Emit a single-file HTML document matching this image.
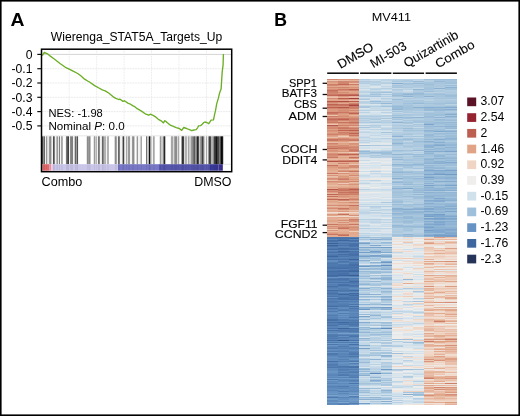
<!DOCTYPE html>
<html><head><meta charset="utf-8"><style>
html,body{margin:0;padding:0;background:#fff;}
#w{position:relative;width:520px;height:416px;overflow:hidden;background:#fff;font-family:"Liberation Sans", sans-serif;}
svg{position:absolute;left:0;top:0;will-change:transform;}
text{stroke:#000;stroke-width:0.12px;fill:#000;}
.ns text,text.ns{stroke:none;fill:#000;}
</style></head><body><div id="w">
<div style="position:absolute;left:0;top:0;width:520px;height:416px;filter:blur(0.45px)"><div style="position:absolute;left:327.20px;top:79px;width:10.75px;height:326px;background:linear-gradient(to bottom,#d1866f 0px 1px,#ebc4b0 1px 2px,#d8947b 2px 3px,#dd9e82 3px 4px,#e2a88d 4px 5px,#cd7e69 5px 6px,#d28871 6px 7px,#e2a98e 7px 8px,#d38a73 8px 9px,#de9f83 9px 10px,#d58e76 10px 11px,#c6715f 11px 12px,#cb7b67 12px 13px,#ce816b 13px 14px,#d28971 14px 15px,#cb7a66 15px 16px,#c16757 16px 17px,#e6b49c 17px 18px,#eac2ad 18px 19px,#d28870 19px 20px,#e2a88d 20px 21px,#e0a386 21px 22px,#b8584d 22px 23px,#d1866f 23px 24px,#da987e 24px 25px,#be6253 25px 26px,#ca7965 26px 27px,#d38a72 27px 28px,#bc5f50 28px 29px,#d38a72 29px 30px,#db9a7f 30px 31px,#dc9b80 31px 32px,#da987e 32px 33px,#c46d5c 33px 34px,#c97663 34px 35px,#d58f76 35px 36px,#eac4af 36px 37px,#cc7c68 37px 38px,#db997e 38px 39px,#cb7b67 39px 40px,#c36b5a 40px 41px,#cc7d68 41px 42px,#d18770 42px 43px,#ca7965 43px 44px,#e1a689 44px 45px,#ecc8b4 45px 46px,#b7564c 46px 47px,#d58e76 47px 48px,#d38a72 48px 49px,#d18770 49px 50px,#dfa185 50px 51px,#d48c74 51px 52px,#da977d 52px 53px,#e0a386 53px 54px,#d8947a 54px 55px,#ce806a 55px 56px,#db9a7f 56px 57px,#e1a589 57px 58px,#e9bfa9 58px 59px,#db997e 59px 60px,#c77461 60px 62px,#dfa184 62px 63px,#e8bda7 63px 64px,#cf826c 64px 65px,#d8957b 65px 66px,#dc9c80 66px 67px,#ce816b 67px 68px,#d38a73 68px 69px,#c36b5a 69px 70px,#dc9c81 70px 71px,#d69077 71px 72px,#d9967c 72px 73px,#e5b298 73px 74px,#d8947b 74px 75px,#d0846d 75px 76px,#d58e75 76px 77px,#d79178 77px 78px,#ca7865 78px 79px,#e4ae94 79px 80px,#e7b9a1 80px 81px,#d9967c 81px 82px,#b35149 82px 83px,#e5b198 83px 84px,#e3ae93 84px 85px,#e4b197 85px 86px,#c77361 86px 87px,#da987d 87px 88px,#dc9c80 88px 89px,#e1a689 89px 90px,#e1a78b 90px 91px,#e3ac91 91px 92px,#e4b096 92px 93px,#e3ad93 93px 94px,#ca7965 94px 95px,#e7baa3 95px 96px,#d8947a 96px 97px,#e9c1ab 97px 98px,#e6b79f 98px 99px,#d58e76 99px 100px,#d9967c 100px 101px,#e9bfaa 101px 102px,#d38b73 102px 103px,#dfa184 103px 104px,#e3ae93 104px 105px,#e3ad92 105px 106px,#e8bda7 106px 107px,#e4af96 107px 108px,#e0a487 108px 109px,#e4af95 109px 110px,#b6554b 110px 111px,#d69077 111px 112px,#d0846d 112px 113px,#dd9e82 113px 114px,#e6b59d 114px 115px,#c06555 115px 116px,#e3ad92 116px 117px,#c5705e 117px 118px,#e4b096 118px 119px,#dd9e82 119px 120px,#c16857 120px 121px,#e3ac91 121px 122px,#e0a285 122px 123px,#e2aa8f 123px 124px,#e5b49b 124px 125px,#e4b097 125px 126px,#d58d75 126px 127px,#e8bda7 127px 128px,#dfa184 128px 129px,#d48b73 129px 130px,#e5b198 130px 131px,#e3ac92 131px 132px,#e2aa8e 132px 133px,#f0dcd0 133px 134px,#edcab8 134px 135px,#db9a7f 135px 136px,#e1a88c 136px 137px,#f0dacc 137px 138px,#e3ac92 138px 139px,#e4ae94 139px 141px,#e0a487 141px 142px,#e0a588 142px 143px,#e4b097 143px 144px,#e5b39b 144px 145px,#c87562 145px 146px,#e4b097 146px 147px,#d48d75 147px 148px,#e1a689 148px 149px,#d9957b 149px 150px,#ebc4af 150px 151px,#d8947a 151px 152px,#e7baa3 152px 153px,#e0a386 153px 154px,#da977d 154px 155px,#c77461 155px 156px,#e3ae94 156px 157px,#e2aa8e 157px 158px,#4c76ac 158px 159px,#4973aa 159px 160px,#5985b8 160px 161px,#446ea5 161px 162px,#4871a8 162px 163px,#5681b5 163px 164px,#3b6198 164px 165px,#5580b4 165px 166px,#3c639a 166px 167px,#4a74aa 167px 168px,#5681b5 168px 169px,#4e78ae 169px 170px,#436da4 170px 171px,#5b87ba 171px 172px,#527db2 172px 173px,#4670a7 173px 174px,#5883b6 174px 175px,#4f7aaf 175px 176px,#4a74ab 176px 177px,#3d669e 177px 178px,#517cb1 178px 179px,#5580b4 179px 180px,#4771a8 180px 181px,#618dbe 181px 182px,#5f8bbd 182px 183px,#547fb3 183px 184px,#4c76ac 184px 185px,#4f7aaf 185px 186px,#4e79ae 186px 187px,#4d77ad 187px 188px,#4670a7 188px 190px,#537eb2 190px 191px,#4d78ad 191px 192px,#436da5 192px 193px,#4872a9 193px 195px,#4973a9 195px 196px,#416aa2 196px 197px,#4771a8 197px 198px,#6793c3 198px 199px,#537eb2 199px 200px,#4771a8 200px 201px,#507bb0 201px 202px,#5580b4 202px 203px,#4872a8 203px 204px,#5b87ba 204px 205px,#527db2 205px 206px,#5480b4 206px 207px,#466fa7 207px 208px,#517cb1 208px 209px,#5681b5 209px 210px,#5a85b8 210px 211px,#426ba3 211px 212px,#527db2 212px 213px,#4f7aaf 213px 214px,#4771a8 214px 215px,#4e79ae 215px 216px,#5580b4 216px 217px,#4a74aa 217px 218px,#6390c0 218px 219px,#4973aa 219px 220px,#537eb3 220px 221px,#5580b4 221px 222px,#4e78ae 222px 223px,#4f79af 223px 224px,#5681b5 224px 225px,#5580b4 225px 226px,#507bb0 226px 227px,#446ea5 227px 228px,#5d89bb 228px 229px,#4c76ac 229px 230px,#5883b7 230px 231px,#5e8abc 231px 232px,#4f7aaf 232px 233px,#618ebf 233px 234px,#6390c0 234px 235px,#5b87b9 235px 236px,#507bb0 236px 237px,#5b87ba 237px 238px,#5580b4 238px 239px,#5783b6 239px 240px,#4670a7 240px 241px,#456fa6 241px 242px,#5783b6 242px 243px,#446ea6 243px 244px,#537eb2 244px 245px,#527db2 245px 246px,#4872a9 246px 247px,#5783b6 247px 248px,#5984b7 248px 249px,#4a74ab 249px 250px,#618dbe 250px 251px,#4771a8 251px 252px,#5b87b9 252px 253px,#5c88ba 253px 254px,#6794c3 254px 255px,#537eb2 255px 256px,#4f79af 256px 257px,#4e79ae 257px 258px,#5580b4 258px 259px,#4f79af 259px 260px,#5984b7 260px 261px,#456fa6 261px 262px,#608dbe 262px 263px,#4d78ad 263px 264px,#6f9ac7 264px 265px,#4c76ac 265px 266px,#6a96c4 266px 267px,#5c88bb 267px 268px,#5782b5 268px 269px,#4e78ae 269px 270px,#6390c0 270px 271px,#5d89bb 271px 272px,#527db2 272px 273px,#6995c4 273px 274px,#4c76ac 274px 275px,#4f7aaf 275px 276px,#5682b5 276px 277px,#5e8abc 277px 278px,#6692c3 278px 279px,#5e8abc 279px 281px,#628fc0 281px 282px,#456fa6 282px 283px,#5d89bb 283px 284px,#5884b7 284px 285px,#517bb0 285px 286px,#517cb1 286px 287px,#5581b5 287px 288px,#4c77ac 288px 289px,#608cbe 289px 290px,#5d89bb 290px 291px,#618ebf 291px 292px,#6895c4 292px 293px,#6894c4 293px 294px,#608dbe 294px 295px,#5b86b9 295px 296px,#5985b8 296px 297px,#618ebf 297px 298px,#5b87ba 298px 299px,#719cc8 299px 300px,#4f7aaf 300px 301px,#6c98c5 301px 302px,#5f8cbd 302px 303px,#618ebf 303px 304px,#5883b6 304px 305px,#6794c3 305px 306px,#608cbe 306px 307px,#5682b5 307px 308px,#5a86b9 308px 309px,#5f8bbd 309px 310px,#638fc0 310px 311px,#5984b7 311px 312px,#6591c2 312px 313px,#6592c2 313px 314px,#6c98c5 314px 315px,#5f8bbd 315px 316px,#7da5cc 316px 317px,#608cbe 317px 318px,#4e78ae 318px 319px,#6d99c6 319px 320px,#719cc8 320px 321px,#5e8abc 321px 322px,#608dbe 322px 323px,#6f9ac7 323px 324px,#5d89bb 324px 325px,#618dbf 325px 326px)"></div><div style="position:absolute;left:337.90px;top:79px;width:11.05px;height:326px;background:linear-gradient(to bottom,#d8957b 0px 1px,#e7b8a1 1px 2px,#d1866f 2px 3px,#d0846d 3px 4px,#d18670 4px 5px,#c16757 5px 6px,#dd9c81 6px 7px,#e2a98e 7px 8px,#d0846e 8px 9px,#dc9c81 9px 10px,#ca7865 10px 11px,#d48c74 11px 12px,#e1a589 12px 13px,#d48c74 13px 14px,#dc9a7f 14px 15px,#c6715f 15px 16px,#bb5d50 16px 17px,#dd9c81 17px 18px,#e5b198 18px 19px,#bb5c4f 19px 20px,#d79279 20px 21px,#e3ad93 21px 22px,#af4a45 22px 23px,#d8947b 23px 24px,#e2a88d 24px 25px,#c5705e 25px 26px,#c77360 26px 27px,#d69077 27px 28px,#b6554b 28px 29px,#cf826c 29px 30px,#d9957b 30px 31px,#d48c74 31px 32px,#d69077 32px 33px,#c87663 33px 34px,#d8937a 34px 35px,#dea083 35px 36px,#db997e 36px 37px,#d48c74 37px 38px,#db997e 38px 39px,#c97764 39px 40px,#bd5f51 40px 41px,#d1866f 41px 42px,#e0a588 42px 43px,#c77361 43px 44px,#d9957b 44px 45px,#dfa084 45px 46px,#cd7f6a 46px 47px,#dfa285 47px 48px,#cd7e69 48px 49px,#c87562 49px 50px,#d69178 50px 51px,#c06556 51px 52px,#dc9b80 52px 53px,#cd7f6a 53px 54px,#d18670 54px 56px,#e4af95 56px 57px,#eccab7 57px 58px,#e3ae94 58px 59px,#d48c74 59px 60px,#cb7a66 60px 61px,#d1866f 61px 62px,#dd9e82 62px 63px,#e7b8a0 63px 64px,#e0a285 64px 65px,#e1a589 65px 66px,#d68f77 66px 67px,#d58e75 67px 68px,#cd7e69 68px 70px,#da977d 70px 71px,#e1a589 71px 72px,#d9957b 72px 73px,#e9c0aa 73px 74px,#da987d 74px 75px,#be6152 75px 76px,#d79178 76px 77px,#e5b299 77px 78px,#e0a386 78px 79px,#e4b097 79px 80px,#e5b49b 80px 81px,#d18670 81px 82px,#bc5d50 82px 83px,#e3ac92 83px 84px,#cf826c 84px 85px,#e6b69d 85px 86px,#dfa184 86px 87px,#dfa084 87px 88px,#d48d75 88px 89px,#db9a7f 89px 90px,#e6b79f 90px 91px,#db9a7f 91px 92px,#d18670 92px 93px,#eccab7 93px 94px,#d69077 94px 95px,#e5b39a 95px 96px,#e2a98e 96px 97px,#da987d 97px 98px,#dd9e82 98px 99px,#d18770 99px 100px,#cb7b67 100px 101px,#e1a588 101px 102px,#d8947b 102px 103px,#da977d 103px 104px,#eccab7 104px 105px,#db9a7f 105px 106px,#e7b9a2 106px 107px,#e4af95 107px 108px,#e1a78b 108px 109px,#d1866f 109px 110px,#c97763 110px 111px,#c87461 111px 112px,#d58f76 112px 113px,#c67260 113px 114px,#d38b73 114px 115px,#cb7a66 115px 116px,#dd9d81 116px 117px,#d79278 117px 118px,#dfa185 118px 119px,#e5b39a 119px 120px,#bd6152 120px 121px,#d28871 121px 122px,#e9bea9 122px 123px,#dc9a7f 123px 124px,#e4af95 124px 125px,#e3ad92 125px 126px,#d38972 126px 127px,#e3ae93 127px 128px,#e2a98d 128px 129px,#c87562 129px 130px,#d69077 130px 131px,#e5b39a 131px 132px,#db997e 132px 133px,#f0ded3 133px 134px,#e3ad93 134px 135px,#c46e5c 135px 136px,#e7baa3 136px 137px,#f0dccf 137px 138px,#e0a386 138px 139px,#e6b69d 139px 140px,#e4af95 140px 141px,#d58e75 141px 142px,#e7b8a0 142px 143px,#d79178 143px 144px,#e5b39a 144px 145px,#d58f76 145px 146px,#dd9d81 146px 147px,#db997e 147px 148px,#cf836d 148px 149px,#c77360 149px 150px,#e3ac92 150px 151px,#e5b299 151px 152px,#e4ae94 152px 153px,#e1a88c 153px 155px,#cf826c 155px 156px,#c56f5d 156px 157px,#e3ad93 157px 158px,#4c76ac 158px 159px,#4771a8 159px 160px,#4d78ae 160px 161px,#3d659d 161px 162px,#5681b5 162px 164px,#4a74aa 164px 165px,#537eb2 165px 166px,#4771a8 166px 167px,#5682b5 167px 168px,#5580b4 168px 169px,#436ca4 169px 170px,#4771a8 170px 171px,#547fb3 171px 172px,#3e67a0 172px 173px,#4771a8 173px 174px,#5782b6 174px 175px,#446da5 175px 176px,#507bb0 176px 177px,#4a75ab 177px 178px,#5884b7 178px 179px,#517cb1 179px 180px,#4872a9 180px 181px,#5985b8 181px 182px,#4a74aa 182px 183px,#507bb0 183px 184px,#5f8cbd 184px 185px,#4e79ae 185px 186px,#4974aa 186px 187px,#4b76ac 187px 188px,#4771a8 188px 189px,#436da5 189px 190px,#5782b6 190px 191px,#4670a7 191px 192px,#426ba3 192px 193px,#4b76ac 193px 194px,#456fa6 194px 195px,#4771a8 195px 196px,#3d659d 196px 197px,#5985b8 197px 198px,#6592c2 198px 199px,#4a74aa 199px 200px,#4872a9 200px 201px,#4e79ae 201px 202px,#5682b5 202px 203px,#4771a8 203px 204px,#5682b5 204px 205px,#4670a7 205px 206px,#466fa7 206px 207px,#527db2 207px 208px,#5984b7 208px 209px,#537eb2 209px 211px,#4b76ac 211px 212px,#517cb0 212px 213px,#628fc0 213px 214px,#517bb0 214px 215px,#3e679f 215px 216px,#537eb2 216px 217px,#527db2 217px 218px,#4a74aa 218px 219px,#456fa7 219px 220px,#4771a8 220px 221px,#5c88ba 221px 222px,#4c77ad 222px 223px,#5a86b9 223px 224px,#5480b4 224px 225px,#527db1 225px 226px,#4e78ae 226px 227px,#4d77ad 227px 228px,#5f8bbc 228px 229px,#608cbe 229px 230px,#547fb3 230px 231px,#507aaf 231px 232px,#6390c0 232px 233px,#6895c4 233px 234px,#517cb1 234px 235px,#6794c3 235px 236px,#5a86b8 236px 237px,#6592c2 237px 238px,#5a86b9 238px 239px,#628fc0 239px 240px,#507bb0 240px 242px,#5682b5 242px 243px,#3f68a1 243px 244px,#4f7aaf 244px 245px,#4771a8 245px 246px,#608cbe 246px 247px,#5984b7 247px 248px,#5d89bb 248px 249px,#3d659d 249px 250px,#5681b5 250px 251px,#4d77ad 251px 252px,#527db1 252px 253px,#5f8bbd 253px 254px,#76a0c9 254px 255px,#5985b8 255px 256px,#4f7aaf 256px 257px,#6390c1 257px 258px,#527cb1 258px 259px,#5884b7 259px 260px,#5b87b9 260px 261px,#365789 261px 262px,#6693c3 262px 263px,#507bb0 263px 264px,#6a96c5 264px 265px,#5883b7 265px 266px,#5e8abc 266px 267px,#4f7aaf 267px 268px,#5b86b9 268px 269px,#5480b4 269px 270px,#618ebf 270px 271px,#5985b8 271px 272px,#547fb3 272px 273px,#628ebf 273px 274px,#5985b8 274px 275px,#5884b7 275px 276px,#5b87ba 276px 277px,#547fb3 277px 278px,#5c88ba 278px 279px,#618dbf 279px 280px,#5681b5 280px 281px,#5e8bbc 281px 282px,#5480b4 282px 283px,#6592c2 283px 285px,#608cbd 285px 286px,#5e8abc 286px 287px,#4c76ac 287px 288px,#507aaf 288px 289px,#5985b8 289px 290px,#527cb1 290px 291px,#5480b4 291px 292px,#5d89bb 292px 293px,#527db2 293px 294px,#5c88ba 294px 295px,#517cb1 295px 296px,#4e78ae 296px 297px,#6995c4 297px 298px,#5782b5 298px 299px,#6f9ac7 299px 300px,#5b87b9 300px 301px,#5985b8 301px 302px,#5e8abc 302px 303px,#6996c4 303px 304px,#5d89bb 304px 305px,#6591c2 305px 306px,#618ebf 306px 307px,#507bb0 307px 308px,#5d89bb 308px 309px,#5884b7 309px 310px,#6894c4 310px 311px,#628fc0 311px 312px,#537eb2 312px 313px,#6995c4 313px 314px,#5a86b8 314px 315px,#6693c3 315px 316px,#6e99c6 316px 317px,#709bc7 317px 318px,#5984b7 318px 319px,#628fc0 319px 320px,#6490c1 320px 321px,#6e99c6 321px 322px,#628ebf 322px 323px,#7fa7cd 323px 324px,#5884b7 324px 325px,#5681b5 325px 326px)"></div><div style="position:absolute;left:348.90px;top:79px;width:10.55px;height:326px;background:linear-gradient(to bottom,#d9967c 0px 1px,#e5b299 1px 2px,#d58d75 2px 3px,#d58f76 3px 4px,#e9bea8 4px 5px,#cb7a66 5px 6px,#e2a88d 6px 7px,#e3ac91 7px 8px,#d69077 8px 9px,#de9f83 9px 10px,#bf6455 10px 11px,#d0856f 11px 12px,#e1a588 12px 13px,#e0a386 13px 14px,#db9a7f 14px 15px,#c56f5d 15px 16px,#b6554b 16px 17px,#e5b39b 17px 18px,#e8bca6 18px 19px,#a53b3d 19px 20px,#dfa185 20px 21px,#e8bca5 21px 22px,#ba5b4e 22px 23px,#e1a588 23px 24px,#d0846e 24px 25px,#bf6455 25px 26px,#ac4643 26px 27px,#cc7d68 27px 28px,#cb7a66 28px 29px,#ce816b 29px 30px,#e0a386 30px 31px,#d28972 31px 32px,#e0a286 32px 33px,#cf836d 33px 34px,#be6153 34px 35px,#db997e 35px 36px,#e5b39a 36px 37px,#dd9d81 37px 38px,#d8947a 38px 39px,#d0836d 39px 40px,#cd7e69 40px 41px,#d48d75 41px 42px,#d68f77 42px 43px,#c46e5c 43px 44px,#d28871 44px 45px,#dd9c81 45px 46px,#d0846e 46px 47px,#e6b69e 47px 48px,#d79279 48px 49px,#cb7a66 49px 50px,#d58e75 50px 51px,#bb5d4f 51px 52px,#d79178 52px 53px,#d28972 53px 54px,#be6253 54px 55px,#d48c74 55px 56px,#c87562 56px 57px,#dea084 57px 58px,#e4b097 58px 59px,#dd9c81 59px 60px,#ce806a 60px 61px,#c97763 61px 62px,#e6b59d 62px 63px,#eac3af 63px 64px,#d79278 64px 65px,#d9967c 65px 66px,#e0a386 66px 67px,#d58f76 67px 68px,#d1856f 68px 69px,#d68f76 69px 70px,#cf826c 70px 71px,#ca7966 71px 72px,#d1856f 72px 73px,#efd1c0 73px 74px,#dc9c81 74px 75px,#bf6354 75px 76px,#de9e82 76px 77px,#e2aa8f 77px 78px,#c56f5d 78px 79px,#db9a7f 79px 80px,#ecc9b5 80px 81px,#cc7d68 81px 82px,#be6152 82px 83px,#e3ad93 83px 84px,#e2a98e 84px 85px,#ebc4b0 85px 86px,#d38b73 86px 87px,#d38a72 87px 88px,#d48c74 88px 89px,#e4af95 89px 90px,#e8bba4 90px 91px,#dc9c80 91px 92px,#c77461 92px 93px,#e6b59d 93px 94px,#e1a68a 94px 95px,#e2a88c 95px 96px,#d38a73 96px 97px,#e6b69e 97px 98px,#e0a386 98px 99px,#e1a78b 99px 100px,#da987d 100px 101px,#e2aa8f 101px 102px,#d18670 102px 103px,#e7baa3 103px 104px,#e3ab90 104px 105px,#d79379 105px 106px,#e3ae94 106px 107px,#e2aa8e 107px 108px,#e0a487 108px 109px,#ce806b 109px 110px,#bb5d4f 110px 111px,#cc7d68 111px 112px,#d0846e 112px 113px,#c56f5d 113px 114px,#d0846e 114px 115px,#cd7f6a 115px 116px,#dfa184 116px 117px,#dc9b80 117px 118px,#e1a689 118px 119px,#d8937a 119px 120px,#cc7d68 120px 121px,#dea084 121px 122px,#e6b69e 122px 123px,#d38a72 123px 124px,#e3ab90 124px 125px,#e5b299 125px 126px,#c6715f 126px 127px,#dd9e82 127px 128px,#dd9d82 128px 129px,#dc9c81 129px 130px,#dd9e82 130px 131px,#e8bda6 131px 132px,#e3ad92 132px 133px,#f0d7c7 133px 134px,#eac1ac 134px 135px,#e6b69e 135px 136px,#d79379 136px 137px,#f0d8ca 137px 138px,#e3ad93 138px 139px,#e5b198 139px 140px,#cd7f6a 140px 141px,#d58e76 141px 142px,#d68f76 142px 143px,#e4b197 143px 144px,#e2ab90 144px 145px,#c97764 145px 146px,#e5b198 146px 147px,#dc9a7f 147px 148px,#d48d75 148px 149px,#dc9b80 149px 150px,#d9967c 150px 151px,#e0a487 151px 152px,#edccba 152px 153px,#e2a98d 153px 154px,#e2a88d 154px 155px,#e3ab90 155px 156px,#e3ad93 156px 157px,#e4ae94 157px 158px,#5580b4 158px 159px,#436ca4 159px 160px,#5a86b9 160px 161px,#466fa7 161px 162px,#4a74ab 162px 163px,#5a86b9 163px 164px,#4a74aa 164px 165px,#4670a7 165px 167px,#4973a9 167px 168px,#5682b5 168px 169px,#4973aa 169px 170px,#4670a7 170px 171px,#5d89bb 171px 172px,#4670a7 172px 173px,#4d78ae 173px 174px,#4973aa 174px 175px,#456fa6 175px 176px,#4670a7 176px 177px,#517cb1 177px 178px,#547fb3 178px 179px,#517cb1 179px 180px,#3d649c 180px 181px,#517cb1 181px 182px,#5a86b9 182px 183px,#4e79ae 183px 184px,#4d78ad 184px 185px,#456fa7 185px 186px,#446ea5 186px 187px,#4b75ab 187px 188px,#456fa6 188px 189px,#4b75ab 189px 190px,#4c76ac 190px 191px,#416ba3 191px 192px,#3e67a0 192px 193px,#527db2 193px 194px,#537eb2 194px 195px,#4e79ae 195px 196px,#3a5f95 196px 197px,#537eb3 197px 198px,#6d98c6 198px 199px,#4f7aaf 199px 200px,#5681b5 200px 201px,#4f7aaf 201px 202px,#426ca4 202px 203px,#4973aa 203px 204px,#507bb0 204px 205px,#5580b4 205px 206px,#456fa6 206px 207px,#4c76ac 207px 208px,#5985b8 208px 209px,#608cbe 209px 210px,#5883b7 210px 211px,#436da5 211px 212px,#547fb3 212px 213px,#5f8bbd 213px 214px,#406aa2 214px 215px,#4d78ad 215px 216px,#426ca4 216px 217px,#517bb0 217px 218px,#4b76ac 218px 219px,#4c76ac 219px 220px,#4770a8 220px 221px,#5a86b9 221px 222px,#517cb1 222px 223px,#5b87b9 223px 224px,#5e8bbc 224px 225px,#4a74aa 225px 226px,#6592c2 226px 227px,#456fa6 227px 228px,#5b87b9 228px 229px,#4b75ac 229px 230px,#5682b5 230px 231px,#5783b6 231px 232px,#5a85b8 232px 233px,#608cbe 233px 234px,#5883b7 234px 235px,#5a86b9 235px 236px,#5985b8 236px 237px,#5884b7 237px 238px,#4a74aa 238px 239px,#618dbe 239px 240px,#5a85b8 240px 241px,#4e79ae 241px 242px,#537eb2 242px 243px,#4973a9 243px 244px,#4e79ae 244px 245px,#4a75ab 245px 246px,#4e78ae 246px 247px,#5782b5 247px 248px,#709bc7 248px 249px,#4872a9 249px 250px,#507bb0 250px 252px,#4d78ad 252px 253px,#5985b8 253px 254px,#77a1ca 254px 255px,#5c88ba 255px 256px,#4e79ae 256px 257px,#4a75ab 257px 258px,#5985b8 258px 259px,#5f8cbd 259px 260px,#5c88ba 260px 261px,#4771a8 261px 262px,#6c98c5 262px 263px,#4d78ad 263px 264px,#6a96c5 264px 265px,#456fa6 265px 266px,#5e8abc 266px 267px,#6894c4 267px 268px,#5782b6 268px 269px,#537eb2 269px 270px,#5d89bb 270px 271px,#6591c2 271px 272px,#5984b7 272px 273px,#527db2 273px 274px,#507bb0 274px 275px,#4b75ab 275px 276px,#5b87b9 276px 277px,#4b76ac 277px 278px,#5c88ba 278px 279px,#6491c1 279px 280px,#6b97c5 280px 281px,#5a86b9 281px 282px,#4d77ad 282px 283px,#79a2cb 283px 284px,#537eb2 284px 285px,#6491c2 285px 286px,#6c98c5 286px 287px,#4a75ab 287px 288px,#4872a9 288px 289px,#5e8abc 289px 290px,#537eb2 290px 291px,#608cbd 291px 292px,#547fb3 292px 293px,#4f7aaf 293px 294px,#608dbe 294px 295px,#5a86b8 295px 296px,#547fb3 296px 297px,#5782b6 297px 298px,#507bb0 298px 299px,#709bc7 299px 300px,#5f8bbd 300px 301px,#527db1 301px 302px,#5985b8 302px 303px,#6a96c5 303px 304px,#4a74aa 304px 305px,#6a96c4 305px 306px,#5e8abc 306px 307px,#6693c3 307px 308px,#5c88ba 308px 309px,#628ebf 309px 310px,#618ebf 310px 311px,#5e8abc 311px 312px,#5a86b9 312px 313px,#6995c4 313px 314px,#6e99c6 314px 315px,#618ebf 315px 316px,#84aacf 316px 317px,#527db2 317px 318px,#5b87ba 318px 319px,#6d98c6 319px 320px,#6e99c6 320px 321px,#719cc8 321px 322px,#6895c4 322px 324px,#537eb2 324px 325px,#6e99c6 325px 326px)"></div><div style="position:absolute;left:359.40px;top:79px;width:10.95px;height:326px;background:linear-gradient(to bottom,#b2cde1 0px 1px,#c4d8e7 1px 2px,#b0cbe0 2px 3px,#b8d0e3 3px 4px,#b1cce0 4px 5px,#cddeeb 5px 6px,#ccdeea 6px 7px,#c6dae8 7px 8px,#d0e1ec 8px 9px,#c3d7e7 9px 10px,#d8e4ec 10px 11px,#ccdeea 11px 12px,#bdd4e5 12px 13px,#b8d1e3 13px 14px,#cfe0eb 14px 15px,#c2d7e7 15px 16px,#afcbe0 16px 17px,#acc9df 17px 18px,#d2e1ec 18px 19px,#bdd4e5 19px 20px,#acc8df 20px 21px,#dee6ec 21px 22px,#b8d1e3 22px 23px,#b9d1e3 23px 24px,#bdd4e5 24px 25px,#dae5ec 25px 26px,#c6dae8 26px 27px,#acc8df 27px 28px,#a9c6de 28px 29px,#dae5ec 29px 30px,#cddfeb 30px 31px,#b6cfe2 31px 32px,#d6e3ec 32px 33px,#bad2e4 33px 34px,#d4e2ec 34px 35px,#dae5ec 35px 36px,#bcd3e4 36px 37px,#b2cde1 37px 38px,#c2d7e6 38px 39px,#aecae0 39px 40px,#c0d6e6 40px 41px,#b5cfe2 41px 42px,#bfd5e5 42px 43px,#aecadf 43px 44px,#c9dce9 44px 45px,#dee7ec 45px 46px,#b0cbe0 46px 47px,#d2e1ec 47px 48px,#a7c5dd 48px 49px,#cfe0eb 49px 50px,#c5d9e8 50px 51px,#dde6ec 51px 52px,#c9dbe9 52px 53px,#bed4e5 53px 54px,#d3e2ec 54px 56px,#d6e3ec 56px 57px,#cbddea 57px 58px,#bfd5e6 58px 59px,#cadce9 59px 60px,#cfe0eb 60px 61px,#bfd5e5 61px 62px,#cddeea 62px 63px,#bed4e5 63px 64px,#d7e3ec 64px 65px,#efece9 65px 66px,#a0c1da 66px 67px,#d8e4ec 67px 68px,#d1e1ec 68px 69px,#cedfeb 69px 70px,#e4e9ec 70px 71px,#b4cee1 71px 72px,#97bad7 72px 73px,#aac7de 73px 74px,#9fc0da 74px 75px,#bad2e4 75px 76px,#c3d8e7 76px 77px,#b5cee2 77px 78px,#cfe0eb 78px 79px,#dde6ec 79px 81px,#c7dae8 81px 82px,#e8ebec 82px 83px,#eaecec 83px 84px,#d1e1ec 84px 85px,#eaecec 85px 86px,#d0e1ec 86px 87px,#e5e9ec 87px 88px,#d7e3ec 88px 89px,#dbe5ec 89px 90px,#e3e9ec 90px 91px,#e9ecec 91px 92px,#ccddea 92px 93px,#ebecec 93px 94px,#e3e9ec 94px 95px,#d8e4ec 95px 96px,#c6dae8 96px 97px,#ccddea 97px 98px,#d7e4ec 98px 99px,#e0e7ec 99px 100px,#efe7e2 100px 101px,#c9dce9 101px 102px,#dae5ec 102px 103px,#d4e2ec 103px 104px,#bfd5e6 104px 105px,#dae5ec 105px 106px,#e7ebec 106px 107px,#ebecec 107px 108px,#dae5ec 108px 109px,#e2e8ec 109px 110px,#b9d1e3 110px 111px,#d4e2ec 111px 112px,#d8e4ec 112px 113px,#efeae6 113px 114px,#e2e9ec 114px 115px,#d7e4ec 115px 116px,#d9e4ec 116px 117px,#e0e8ec 117px 118px,#d9e4ec 118px 119px,#e5eaec 119px 120px,#d2e2ec 120px 121px,#cfe0eb 121px 122px,#e9ecec 122px 123px,#d0e0ec 123px 124px,#d7e4ec 124px 125px,#c1d7e6 125px 126px,#d7e4ec 126px 127px,#bfd5e5 127px 128px,#dde6ec 128px 129px,#d6e3ec 129px 130px,#cbddea 130px 131px,#c8dbe9 131px 132px,#c5d9e8 132px 133px,#bbd2e4 133px 134px,#c0d6e6 134px 135px,#cddeea 135px 136px,#d3e2ec 136px 138px,#d5e3ec 138px 140px,#b6cfe2 140px 141px,#ccdeea 141px 142px,#c7dae8 142px 143px,#cbddea 143px 144px,#e0e7ec 144px 145px,#d1e1ec 145px 146px,#c0d6e6 146px 147px,#c6dae8 147px 148px,#dfe7ec 148px 149px,#b3cde1 149px 150px,#d6e3ec 150px 151px,#d1e1ec 151px 152px,#d6e3ec 152px 153px,#d9e4ec 153px 154px,#bed4e5 154px 155px,#cddfeb 155px 156px,#bcd3e5 156px 157px,#c4d9e7 157px 158px,#94b7d5 158px 159px,#bbd3e4 159px 160px,#a3c3db 160px 161px,#c8dbe9 161px 162px,#d9e4ec 162px 163px,#93b7d5 163px 164px,#78a1ca 164px 165px,#b2cde1 165px 166px,#b0cbe0 166px 167px,#c4d8e7 167px 168px,#80a7cd 168px 169px,#aecadf 169px 170px,#93b7d5 170px 171px,#97bad7 171px 172px,#b1cce1 172px 173px,#749ec8 173px 174px,#b4cee2 174px 175px,#abc8de 175px 176px,#8db2d3 176px 177px,#759fc9 177px 178px,#9fc0da 178px 179px,#a2c2db 179px 180px,#bfd5e5 180px 181px,#8bb0d2 181px 182px,#aecadf 182px 183px,#bad2e4 183px 184px,#c1d6e6 184px 185px,#dfe7ec 185px 186px,#8fb4d4 186px 187px,#6c98c6 187px 188px,#c7dae8 188px 189px,#99bbd7 189px 190px,#93b7d5 190px 191px,#c3d8e7 191px 192px,#97bad7 192px 193px,#adc9df 193px 194px,#a7c5dd 194px 195px,#b9d1e3 195px 196px,#afcae0 196px 197px,#96b9d6 197px 198px,#b8d0e3 198px 199px,#9fc0da 199px 200px,#c4d9e7 200px 201px,#bcd3e4 201px 202px,#a6c5dd 202px 203px,#b7d0e3 203px 204px,#a5c4dc 204px 205px,#8eb3d3 205px 206px,#b8d0e3 206px 207px,#d5e3ec 207px 208px,#b2cde1 208px 209px,#85acd0 209px 210px,#b3cde1 210px 211px,#a7c5dd 211px 212px,#c3d8e7 212px 213px,#b4cee2 213px 214px,#b2cde1 214px 215px,#89afd1 215px 216px,#cadce9 216px 217px,#99bbd7 217px 218px,#aecadf 218px 219px,#d3e2ec 219px 220px,#90b4d4 220px 221px,#b7d0e3 221px 222px,#cbddea 222px 223px,#b4cee2 223px 224px,#c8dbe9 224px 225px,#8cb1d2 225px 226px,#c0d6e6 226px 227px,#c6dae8 227px 228px,#8bb0d2 228px 229px,#8fb3d3 229px 230px,#6a96c5 230px 231px,#dae5ec 231px 232px,#cfdfeb 232px 233px,#bbd3e4 233px 234px,#d6e3ec 234px 235px,#95b8d6 235px 236px,#dbe5ec 236px 237px,#7aa3cb 237px 238px,#b0cce0 238px 239px,#c7dae8 239px 240px,#99bcd8 240px 241px,#d2e2ec 241px 242px,#cfdfeb 242px 243px,#83aacf 243px 244px,#b1cce0 244px 245px,#b4cee1 245px 246px,#b0cbe0 246px 247px,#cfe0eb 247px 248px,#95b8d6 248px 249px,#a8c6dd 249px 250px,#96b9d6 250px 251px,#bbd2e4 251px 252px,#adc9df 252px 253px,#93b6d5 253px 254px,#b8d1e3 254px 255px,#b4cee2 255px 256px,#acc9df 256px 257px,#b6cfe2 257px 258px,#d6e3ec 258px 259px,#8fb3d3 259px 260px,#b1cce1 260px 261px,#a5c4dc 261px 262px,#d2e1ec 262px 263px,#c4d8e7 263px 264px,#c2d7e7 264px 265px,#c1d7e6 265px 266px,#88aed1 266px 267px,#bcd3e4 267px 268px,#c8dbe9 268px 269px,#78a1ca 269px 270px,#bbd2e4 270px 271px,#c1d6e6 271px 272px,#c5d9e8 272px 273px,#c2d7e6 273px 274px,#cbddea 274px 275px,#aecae0 275px 276px,#a4c4dc 276px 277px,#b9d1e3 277px 278px,#dce6ec 278px 279px,#b6cfe2 279px 280px,#a4c3dc 280px 281px,#b7d0e3 281px 282px,#b3cde1 282px 283px,#99bbd7 283px 284px,#bbd2e4 284px 285px,#c2d7e7 285px 286px,#bfd5e5 286px 287px,#bbd3e4 287px 288px,#d8e4ec 288px 289px,#9dbfd9 289px 290px,#8eb3d3 290px 291px,#b4cee2 291px 292px,#97b9d7 292px 293px,#c4d9e7 293px 294px,#9cbed9 294px 295px,#a3c3db 295px 296px,#88aed1 296px 297px,#cfe0eb 297px 298px,#bbd3e4 298px 299px,#cfe0eb 299px 300px,#bdd4e5 300px 301px,#c0d6e6 301px 302px,#b5cfe2 302px 303px,#b8d1e3 303px 304px,#a5c4dc 304px 305px,#aecadf 305px 306px,#c3d8e7 306px 307px,#dee6ec 307px 308px,#d2e2ec 308px 309px,#99bbd8 309px 310px,#c2d7e7 310px 311px,#a1c2db 311px 312px,#adcadf 312px 313px,#9abcd8 313px 314px,#c1d6e6 314px 315px,#cbddea 315px 316px,#abc8de 316px 317px,#d5e3ec 317px 318px,#9dbed9 318px 319px,#b2cde1 319px 320px,#8bb0d2 320px 321px,#d7e4ec 321px 322px,#c8dbe9 322px 323px,#d8e4ec 323px 324px,#729dc8 324px 325px,#bdd4e5 325px 326px)"></div><div style="position:absolute;left:370.30px;top:79px;width:10.85px;height:326px;background:linear-gradient(to bottom,#c2d7e6 0px 1px,#caddea 1px 2px,#b5cee2 2px 3px,#b6cfe2 3px 4px,#bfd5e6 4px 5px,#b5cee2 5px 6px,#c6dae8 6px 7px,#dae5ec 7px 8px,#dbe5ec 8px 9px,#bed5e5 9px 10px,#b7d0e3 10px 11px,#c9dce9 11px 12px,#bcd3e4 12px 13px,#a7c5dd 13px 14px,#b7d0e3 14px 15px,#a2c2db 15px 16px,#b7d0e3 16px 17px,#a3c3dc 17px 18px,#d2e1ec 18px 19px,#cbddea 19px 20px,#d3e2ec 20px 21px,#c1d6e6 21px 22px,#9cbed9 22px 23px,#b7d0e3 23px 24px,#a8c6dd 24px 25px,#dbe5ec 25px 26px,#c7dbe9 26px 27px,#b3cde1 27px 28px,#c7dae8 28px 29px,#c4d8e7 29px 30px,#c8dbe9 30px 31px,#bed5e5 31px 32px,#e0e8ec 32px 33px,#d3e2ec 33px 34px,#d5e3ec 34px 35px,#cddfeb 35px 36px,#bed5e5 36px 37px,#b0cbe0 37px 38px,#bed4e5 38px 39px,#b4cee2 39px 40px,#abc8de 40px 41px,#c5d9e8 41px 42px,#b8d1e3 42px 43px,#a6c4dc 43px 44px,#cfdfeb 44px 45px,#cbddea 45px 46px,#b3cde1 46px 47px,#bcd3e4 47px 48px,#bbd2e4 48px 49px,#d9e4ec 49px 50px,#bcd3e5 50px 51px,#d6e3ec 51px 52px,#d1e1ec 52px 53px,#c8dbe9 53px 54px,#c9dce9 54px 55px,#d2e1ec 55px 56px,#c3d8e7 56px 57px,#d5e3ec 57px 58px,#d9e4ec 58px 59px,#c1d6e6 59px 60px,#c8dbe9 60px 61px,#ccdeea 61px 62px,#c1d7e6 62px 63px,#dbe5ec 63px 64px,#dee7ec 64px 65px,#dfe7ec 65px 66px,#abc8de 66px 67px,#dde6ec 67px 68px,#d6e3ec 68px 69px,#d8e4ec 69px 70px,#e2e8ec 70px 71px,#c7dae8 71px 72px,#b4cee1 72px 73px,#99bbd8 73px 74px,#a9c6de 74px 75px,#c4d8e7 75px 76px,#aac7de 76px 77px,#bcd3e4 77px 78px,#b2cce1 78px 79px,#e0e7ec 79px 81px,#dae5ec 81px 82px,#e9ebec 82px 83px,#d9e4ec 83px 84px,#d3e2ec 84px 85px,#e2e8ec 85px 86px,#d5e3ec 86px 87px,#dae5ec 87px 88px,#d7e4ec 88px 89px,#dce6ec 89px 90px,#efe8e3 90px 91px,#dbe5ec 91px 92px,#b9d1e3 92px 93px,#e2e8ec 93px 94px,#c5d9e8 94px 95px,#d6e3ec 95px 96px,#dee7ec 96px 97px,#d1e1ec 97px 98px,#dde6ec 98px 99px,#eaecec 99px 100px,#efe8e2 100px 101px,#bcd3e4 101px 102px,#d3e2ec 102px 103px,#e8ebec 103px 104px,#d1e1ec 104px 105px,#dee7ec 105px 107px,#dbe5ec 107px 108px,#efeeeb 108px 109px,#e0e7ec 109px 110px,#cadce9 110px 111px,#d2e2ec 111px 112px,#d8e4ec 112px 113px,#efedeb 113px 114px,#dee7ec 114px 115px,#d6e3ec 115px 116px,#dfe7ec 116px 117px,#d9e4ec 117px 118px,#e6eaec 118px 119px,#dde6ec 119px 120px,#d2e1ec 120px 121px,#d3e2ec 121px 122px,#e2e8ec 122px 123px,#ccdeea 123px 124px,#d8e4ec 124px 125px,#c2d7e6 125px 126px,#dbe5ec 126px 127px,#b1cce1 127px 128px,#bdd4e5 128px 129px,#c6dae8 129px 130px,#cddeeb 130px 131px,#b7d0e2 131px 132px,#dae5ec 132px 133px,#bcd3e4 133px 134px,#c5d9e8 134px 135px,#d6e3ec 135px 136px,#cedfeb 136px 137px,#d0e0ec 137px 138px,#dce6ec 138px 139px,#d5e3ec 139px 140px,#b5cee2 140px 141px,#c8dbe9 141px 142px,#c2d7e7 142px 143px,#bed4e5 143px 144px,#cedfeb 144px 145px,#e2e8ec 145px 146px,#d5e3ec 146px 147px,#d1e1ec 147px 148px,#dbe5ec 148px 149px,#c0d6e6 149px 150px,#d2e2ec 150px 151px,#cedfeb 151px 152px,#cddfeb 152px 153px,#e3e9ec 153px 154px,#c5d9e8 154px 155px,#cbddea 155px 156px,#c1d7e6 156px 157px,#d7e4ec 157px 158px,#9ebfda 158px 159px,#b9d1e3 159px 160px,#84aacf 160px 161px,#c1d6e6 161px 162px,#c1d7e6 162px 163px,#bbd2e4 163px 164px,#a8c6dd 164px 165px,#c9dce9 165px 166px,#7ea6cd 166px 167px,#c5d9e8 167px 168px,#7ba4cc 168px 169px,#b3cde1 169px 170px,#aac7de 170px 171px,#a2c2db 171px 172px,#729dc8 172px 173px,#84abcf 173px 174px,#acc8df 174px 175px,#c0d6e6 175px 176px,#77a0ca 176px 177px,#7ea6cd 177px 178px,#b3cde1 178px 179px,#a4c3dc 179px 180px,#afcbe0 180px 181px,#acc8df 181px 182px,#d8e4ec 182px 183px,#8eb2d3 183px 184px,#aecadf 184px 185px,#d0e0ec 185px 186px,#81a8ce 186px 187px,#89afd1 187px 188px,#b9d1e3 188px 189px,#97bad7 189px 190px,#9dbed9 190px 191px,#c6dae8 191px 192px,#9abcd8 192px 193px,#9cbed9 193px 194px,#a5c4dc 194px 195px,#dce6ec 195px 196px,#a2c2db 196px 197px,#c5d9e8 197px 198px,#b9d1e3 198px 199px,#89afd1 199px 200px,#b1cce0 200px 201px,#cedfeb 201px 202px,#95b8d6 202px 203px,#c5d9e8 203px 204px,#b1cce1 204px 205px,#a6c5dc 205px 206px,#a7c5dd 206px 207px,#d6e3ec 207px 208px,#a2c2db 208px 209px,#b4cee2 209px 210px,#acc9df 210px 211px,#bcd3e5 211px 212px,#b8d1e3 212px 213px,#c6dae8 213px 214px,#d2e2ec 214px 215px,#8bb0d2 215px 216px,#d1e1ec 216px 217px,#9abcd8 217px 218px,#b5cfe2 218px 219px,#d3e2ec 219px 220px,#a8c6dd 220px 221px,#d2e1ec 221px 222px,#d5e3ec 222px 223px,#bbd2e4 223px 224px,#b1cce0 224px 225px,#98bad7 225px 226px,#c7dae8 226px 227px,#c8dbe9 227px 228px,#7ea6cd 228px 229px,#9cbdd9 229px 230px,#a2c2db 230px 231px,#dbe5ec 231px 232px,#c5d9e8 232px 233px,#b2cde1 233px 234px,#c3d8e7 234px 235px,#aecadf 235px 236px,#8fb4d4 236px 237px,#bcd3e5 237px 238px,#c0d6e6 238px 239px,#a7c5dd 239px 240px,#c6dae8 240px 241px,#d8e4ec 241px 242px,#dae5ec 242px 243px,#9ebfd9 243px 244px,#c4d8e7 244px 245px,#bed4e5 245px 246px,#a6c5dc 246px 247px,#e2e9ec 247px 248px,#c2d7e7 248px 249px,#7ca5cc 249px 250px,#b5cfe2 250px 251px,#b3cde1 251px 252px,#c4d9e7 252px 253px,#a2c2db 253px 254px,#b7d0e3 254px 255px,#9bbdd9 255px 256px,#adc9df 256px 257px,#d1e1ec 257px 258px,#b9d1e3 258px 259px,#b5cee2 259px 260px,#b8d1e3 260px 261px,#b4cee1 261px 262px,#d1e1ec 262px 263px,#a8c6dd 263px 264px,#d5e3ec 264px 265px,#dee7ec 265px 266px,#bcd3e4 266px 267px,#c2d7e7 267px 268px,#bfd5e5 268px 269px,#b4cee2 269px 270px,#c7dae8 270px 271px,#a2c2db 271px 272px,#d6e3ec 272px 273px,#aecadf 273px 274px,#aac7de 274px 275px,#b2cce1 275px 276px,#a2c2db 276px 277px,#d0e1ec 277px 278px,#d6e3ec 278px 279px,#cddfeb 279px 280px,#8fb3d3 280px 281px,#d2e1ec 281px 282px,#cddeea 282px 283px,#c9dce9 283px 284px,#d8e4ec 284px 285px,#b8d1e3 285px 286px,#dce6ec 286px 287px,#c9dce9 287px 288px,#c4d8e7 288px 289px,#bad2e4 289px 290px,#b6cfe2 290px 291px,#c3d8e7 291px 292px,#afcae0 292px 293px,#aac7de 293px 294px,#5a86b9 294px 295px,#c9dce9 295px 296px,#c1d7e6 296px 297px,#b7d0e3 297px 298px,#93b6d5 298px 299px,#c7dae8 299px 300px,#aac7de 300px 301px,#85acd0 301px 302px,#9bbdd9 302px 303px,#c6dae8 303px 304px,#a5c4dc 304px 305px,#b3cde1 305px 306px,#c8dbe9 306px 307px,#dee7ec 307px 308px,#d3e2ec 308px 309px,#9fc0da 309px 310px,#d8e4ec 310px 311px,#c2d7e6 311px 312px,#c0d6e6 312px 313px,#c6dae8 313px 314px,#b4cee2 314px 315px,#ccddea 315px 316px,#bed5e5 316px 317px,#d2e1ec 317px 318px,#92b6d5 318px 319px,#aecae0 319px 320px,#8fb3d3 320px 321px,#cfe0eb 321px 322px,#abc8de 322px 323px,#c5d9e8 323px 324px,#abc8de 324px 325px,#d4e2ec 325px 326px)"></div><div style="position:absolute;left:381.10px;top:79px;width:10.55px;height:326px;background:linear-gradient(to bottom,#bad2e4 0px 1px,#bdd4e5 1px 2px,#c9dce9 2px 3px,#b9d1e3 3px 4px,#b5cee2 4px 5px,#d4e2ec 5px 6px,#d1e1ec 6px 7px,#c3d8e7 7px 8px,#cedfeb 8px 9px,#b5cee2 9px 10px,#c7dae8 10px 11px,#d8e4ec 11px 12px,#b7d0e3 12px 13px,#a1c1db 13px 14px,#cedfeb 14px 15px,#abc8de 15px 16px,#caddea 16px 17px,#b4cee1 17px 18px,#cedfeb 18px 19px,#b3cde1 19px 20px,#c3d8e7 20px 21px,#c9dce9 21px 22px,#adc9df 22px 23px,#bad2e4 23px 24px,#95b8d6 24px 25px,#c8dbe9 25px 26px,#bcd3e4 26px 27px,#a2c2db 27px 28px,#c9dce9 28px 29px,#cddfeb 29px 30px,#c1d7e6 30px 31px,#bfd5e6 31px 32px,#d9e5ec 32px 33px,#bbd2e4 33px 34px,#d0e0ec 34px 35px,#e2e9ec 35px 36px,#b3cde1 36px 37px,#b6cfe2 37px 38px,#c6dae8 38px 39px,#a9c6dd 39px 40px,#d1e1ec 40px 41px,#b6cfe2 41px 42px,#b9d1e3 42px 43px,#b2cde1 43px 44px,#c3d8e7 44px 45px,#cbddea 45px 46px,#c2d7e6 46px 47px,#dae5ec 47px 48px,#c8dbe9 48px 49px,#bad2e4 49px 50px,#b7d0e3 50px 51px,#d1e1ec 51px 52px,#d6e3ec 52px 53px,#a4c4dc 53px 54px,#cddfeb 54px 55px,#c0d6e6 55px 56px,#d3e2ec 56px 57px,#cbddea 57px 58px,#dbe5ec 58px 59px,#b7d0e2 59px 60px,#ccddea 60px 61px,#d3e2ec 61px 62px,#cddeea 62px 63px,#d8e4ec 63px 64px,#e4e9ec 64px 65px,#dfe7ec 65px 66px,#b1cce1 66px 67px,#dce6ec 67px 68px,#dde6ec 68px 69px,#d1e1ec 69px 70px,#d5e3ec 70px 71px,#c0d6e6 71px 72px,#aac7de 72px 73px,#9ebfda 73px 74px,#9dbed9 74px 75px,#a6c5dd 75px 76px,#b9d1e3 76px 77px,#b2cde1 77px 78px,#bbd3e4 78px 79px,#dee6ec 79px 80px,#e3e9ec 80px 81px,#dbe5ec 81px 82px,#e2e8ec 82px 83px,#e9ebec 83px 84px,#e0e8ec 84px 85px,#dae5ec 85px 86px,#c5d9e8 86px 87px,#e9ebec 87px 88px,#e2e8ec 88px 89px,#e3e9ec 89px 90px,#eeeeec 90px 91px,#e1e8ec 91px 92px,#d5e3ec 92px 93px,#ecedec 93px 94px,#d1e1ec 94px 95px,#cddeeb 95px 96px,#d6e3ec 96px 97px,#c8dbe9 97px 98px,#e0e7ec 98px 99px,#e4e9ec 99px 100px,#efece9 100px 101px,#d8e4ec 101px 102px,#e0e8ec 102px 103px,#dde6ec 103px 104px,#c5d9e8 104px 105px,#d6e3ec 105px 106px,#d4e2ec 106px 107px,#e8ebec 107px 108px,#dfe7ec 108px 110px,#c5d9e8 110px 111px,#cddeeb 111px 112px,#dbe6ec 112px 113px,#e2e8ec 113px 114px,#e0e7ec 114px 115px,#dbe5ec 115px 116px,#dfe7ec 116px 117px,#dae5ec 117px 118px,#d3e2ec 118px 119px,#e8ebec 119px 120px,#d3e2ec 120px 121px,#d1e1ec 121px 122px,#dee7ec 122px 123px,#abc8de 123px 124px,#d4e3ec 124px 125px,#c2d7e7 125px 126px,#dbe5ec 126px 127px,#b3cde1 127px 128px,#d4e2ec 128px 129px,#d9e5ec 129px 130px,#bcd3e4 130px 131px,#c5d9e8 131px 132px,#d4e2ec 132px 133px,#d1e1ec 133px 134px,#bad2e4 134px 135px,#d8e4ec 135px 136px,#c4d8e7 136px 137px,#caddea 137px 138px,#d9e4ec 138px 139px,#e8ebec 139px 140px,#bcd3e4 140px 141px,#cedfeb 141px 142px,#d8e4ec 142px 143px,#bfd5e6 143px 144px,#dde6ec 144px 145px,#cddeeb 145px 146px,#d4e2ec 146px 147px,#caddea 147px 148px,#e6eaec 148px 149px,#c0d6e6 149px 150px,#d6e3ec 150px 151px,#e1e8ec 151px 152px,#d5e3ec 152px 153px,#dfe7ec 153px 154px,#cbddea 154px 155px,#bed4e5 155px 156px,#c4d8e7 156px 157px,#ccdeea 157px 158px,#a3c2db 158px 159px,#9fc0da 159px 160px,#8eb3d3 160px 161px,#bed5e5 161px 162px,#d1e1ec 162px 163px,#96b9d6 163px 164px,#a4c3dc 164px 165px,#c5d9e8 165px 166px,#a6c5dd 166px 167px,#dbe5ec 167px 168px,#749ec8 168px 169px,#b1cce1 169px 170px,#a1c1db 170px 171px,#a4c4dc 171px 172px,#a9c6dd 172px 173px,#81a9ce 173px 174px,#d3e2ec 174px 175px,#a0c1da 175px 176px,#89afd1 176px 177px,#7ea6cd 177px 178px,#9cbed9 178px 179px,#d5e3ec 179px 180px,#c4d9e7 180px 181px,#bfd5e5 181px 182px,#87add0 182px 183px,#6d98c6 183px 184px,#adc9df 184px 185px,#a6c5dd 185px 186px,#628ebf 186px 187px,#a6c4dc 187px 188px,#9abcd8 188px 189px,#96b9d7 189px 190px,#89afd1 190px 191px,#c2d7e7 191px 192px,#a6c5dd 192px 193px,#98bbd7 193px 194px,#c7dae8 194px 195px,#cfdfeb 195px 196px,#96b9d6 196px 197px,#b4cee2 197px 198px,#98bad7 198px 199px,#90b4d4 199px 201px,#b3cde1 201px 202px,#c0d6e6 202px 203px,#b7d0e3 203px 204px,#a5c4dc 204px 205px,#a3c2db 205px 206px,#c5d9e8 206px 207px,#d6e3ec 207px 208px,#b9d1e3 208px 209px,#8ab0d2 209px 210px,#b2cce1 210px 211px,#b9d1e3 211px 212px,#97b9d7 212px 213px,#a6c4dc 213px 214px,#b8d1e3 214px 215px,#bad2e4 215px 216px,#cadce9 216px 217px,#8eb3d3 217px 218px,#9abcd8 218px 219px,#b6cfe2 219px 220px,#87add0 220px 221px,#a3c3db 221px 222px,#b5cfe2 222px 223px,#b0cbe0 223px 224px,#cadcea 224px 225px,#87add0 225px 226px,#bcd3e4 226px 227px,#dae5ec 227px 228px,#749ec9 228px 229px,#93b6d5 229px 230px,#89afd1 230px 231px,#dae5ec 231px 232px,#cedfeb 232px 233px,#bdd4e5 233px 234px,#ccddea 234px 235px,#c1d6e6 235px 236px,#d1e1ec 236px 237px,#a7c5dd 237px 238px,#a1c1db 238px 239px,#c5d9e8 239px 240px,#ccdeea 240px 241px,#d6e3ec 241px 242px,#e5eaec 242px 243px,#9bbdd8 243px 244px,#aac7de 244px 245px,#bad2e4 245px 246px,#93b7d5 246px 247px,#c5d9e8 247px 248px,#a7c5dd 248px 249px,#608dbe 249px 250px,#c3d8e7 250px 251px,#c1d6e6 251px 252px,#aecae0 252px 253px,#9fc0da 253px 254px,#bbd2e4 254px 255px,#98bbd7 255px 256px,#bed5e5 256px 257px,#b5cfe2 257px 258px,#c6dae8 258px 259px,#bbd2e4 259px 260px,#c9dce9 260px 261px,#a3c3db 261px 262px,#dee6ec 262px 263px,#afcae0 263px 264px,#acc9df 264px 265px,#d4e2ec 265px 266px,#a9c6de 266px 267px,#b2cde1 267px 268px,#dee7ec 268px 269px,#c7dbe8 269px 270px,#d2e1ec 270px 271px,#b2cce1 271px 272px,#d2e1ec 272px 273px,#a6c4dc 273px 274px,#a6c5dd 274px 275px,#d5e3ec 275px 276px,#8fb3d4 276px 277px,#97bad7 277px 278px,#c3d8e7 278px 279px,#d7e4ec 279px 280px,#b3cde1 280px 281px,#d9e5ec 281px 282px,#dae5ec 282px 283px,#afcbe0 283px 284px,#b6cfe2 284px 285px,#bed4e5 285px 286px,#bad2e4 286px 287px,#a7c5dd 287px 288px,#b4cee1 288px 289px,#c1d7e6 289px 290px,#719cc7 290px 291px,#b3cde1 291px 292px,#d4e2ec 292px 293px,#b6cfe2 293px 294px,#8cb1d2 294px 295px,#d1e1ec 295px 296px,#c4d9e7 296px 297px,#cfe0eb 297px 298px,#cddeea 298px 299px,#adc9df 299px 300px,#b6cfe2 300px 301px,#a0c1da 301px 302px,#c6d9e8 302px 303px,#a7c5dd 303px 304px,#b9d1e4 304px 305px,#a9c7de 305px 306px,#adc9df 306px 307px,#efece9 307px 308px,#cbddea 308px 309px,#d6e3ec 309px 310px,#bbd2e4 310px 311px,#8eb2d3 311px 312px,#a8c6dd 312px 313px,#a3c3db 313px 314px,#bcd3e4 314px 315px,#cddeea 315px 316px,#a8c6dd 316px 317px,#d0e0ec 317px 318px,#b3cde1 318px 319px,#a1c1db 319px 320px,#9abcd8 320px 321px,#d7e4ec 321px 322px,#88aed1 322px 323px,#d1e1ec 323px 324px,#96b9d7 324px 325px,#cddeea 325px 326px)"></div><div style="position:absolute;left:391.60px;top:79px;width:10.95px;height:326px;background:linear-gradient(to bottom,#bad2e4 0px 1px,#b5cee2 1px 2px,#a9c7de 2px 3px,#bfd5e5 3px 4px,#85abcf 4px 5px,#bbd3e4 5px 6px,#a5c4dc 6px 7px,#acc9df 7px 8px,#a7c5dd 8px 9px,#c7dae8 9px 10px,#b0cbe0 10px 11px,#b5cee2 11px 12px,#c0d6e6 12px 13px,#b5cee2 13px 14px,#a4c3dc 14px 15px,#a5c4dc 15px 16px,#99bbd8 16px 17px,#a6c5dd 17px 18px,#bfd5e6 18px 19px,#bad2e4 19px 20px,#9dbed9 20px 21px,#b1cce1 21px 23px,#afcae0 23px 24px,#b1cce0 24px 25px,#b2cce1 25px 26px,#a4c3dc 26px 27px,#97bad7 27px 28px,#9bbdd8 28px 29px,#99bcd8 29px 30px,#93b6d5 30px 31px,#b6cfe2 31px 32px,#a3c2db 32px 33px,#c1d6e6 33px 34px,#b3cde1 34px 36px,#a0c1da 36px 37px,#b3cde1 37px 38px,#92b6d5 38px 39px,#b1cce1 39px 40px,#a5c4dc 40px 41px,#c1d6e6 41px 42px,#b1cce1 42px 43px,#8fb3d3 43px 44px,#bcd3e5 44px 45px,#b7d0e3 45px 46px,#acc9df 46px 47px,#b6cfe2 47px 48px,#b4cee2 48px 49px,#aac7de 49px 50px,#bdd4e5 50px 51px,#b5cee2 51px 52px,#c4d9e7 52px 53px,#b4cee2 53px 54px,#b5cee2 54px 55px,#b0cbe0 55px 56px,#a9c7de 56px 57px,#8eb2d3 57px 58px,#bad2e4 58px 59px,#b5cee2 59px 60px,#a0c1da 60px 61px,#a7c5dd 61px 62px,#aecadf 62px 63px,#a6c4dc 63px 64px,#90b4d4 64px 65px,#a6c5dc 65px 66px,#aac7de 66px 67px,#b7d0e3 67px 68px,#b8d0e3 68px 69px,#b6cfe2 69px 70px,#bcd3e4 70px 71px,#9dbfd9 71px 72px,#aac8de 72px 73px,#b8d0e3 73px 74px,#b9d1e3 74px 75px,#91b5d4 75px 76px,#b2cce1 76px 77px,#afcbe0 77px 78px,#9cbed9 78px 79px,#b1cce1 79px 80px,#94b7d6 80px 81px,#b1cce0 81px 82px,#b9d1e3 82px 83px,#acc9df 83px 84px,#b6cfe2 84px 85px,#90b4d4 85px 86px,#a1c1db 86px 87px,#aac7de 87px 88px,#c1d7e6 88px 89px,#a6c4dc 89px 90px,#adc9df 90px 92px,#9fc0da 92px 93px,#90b4d4 93px 94px,#a9c6dd 94px 95px,#a5c4dc 95px 96px,#aac7de 96px 97px,#a0c1da 97px 98px,#adc9df 98px 99px,#88aed1 99px 100px,#aac7de 100px 101px,#bdd4e5 101px 102px,#a0c0da 102px 103px,#92b6d5 103px 104px,#afcae0 104px 105px,#a8c6dd 105px 106px,#bdd4e5 106px 107px,#a4c3dc 107px 108px,#a7c5dd 108px 109px,#8eb2d3 109px 110px,#a3c3dc 110px 111px,#adc9df 111px 112px,#a5c4dc 112px 113px,#a1c1db 113px 114px,#a5c4dc 114px 115px,#a8c6dd 115px 116px,#a3c3db 116px 117px,#abc8de 117px 118px,#a5c4dc 118px 119px,#bad2e4 119px 120px,#abc8de 120px 121px,#a6c5dd 121px 122px,#9ebfda 122px 124px,#b3cde1 124px 125px,#9bbdd8 125px 126px,#acc8df 126px 127px,#a9c7de 127px 128px,#aac7de 128px 129px,#8bb0d2 129px 130px,#8cb1d2 130px 131px,#99bbd8 131px 132px,#9bbdd9 132px 133px,#a9c6de 133px 134px,#90b4d4 134px 135px,#99bbd8 135px 136px,#a2c2db 136px 137px,#adc9df 137px 138px,#99bbd8 138px 139px,#a1c2db 139px 140px,#a5c4dc 140px 141px,#a7c5dd 141px 142px,#a3c3dc 142px 143px,#a5c4dc 143px 144px,#b4cee2 144px 145px,#aecae0 145px 146px,#94b8d6 146px 147px,#9dbed9 147px 148px,#a1c1db 148px 149px,#b6cfe2 149px 150px,#afcbe0 150px 151px,#b4cee1 151px 152px,#adc9df 152px 153px,#aecadf 153px 154px,#b6cfe2 154px 155px,#a4c3dc 155px 156px,#9fc0da 156px 157px,#adc9df 157px 158px,#efe7e1 158px 159px,#dfe7ec 159px 160px,#efe2d9 160px 161px,#e8ebec 161px 162px,#f0e1d8 162px 163px,#efedea 163px 164px,#e6eaec 164px 165px,#f0d9cc 165px 166px,#ededec 166px 167px,#e9ebec 167px 168px,#e0e7ec 168px 169px,#efeeeb 169px 170px,#f0dfd5 170px 171px,#efe8e3 171px 172px,#f0dbcf 172px 173px,#c0d6e6 173px 174px,#dae5ec 174px 175px,#efebe7 175px 176px,#dce6ec 176px 177px,#dbe5ec 177px 178px,#efe5dd 178px 179px,#efd1c0 179px 180px,#efe7e0 180px 181px,#d0e0ec 181px 182px,#efeeec 182px 183px,#efedea 183px 184px,#f0ded2 184px 185px,#efeae6 185px 186px,#ededec 186px 187px,#ececec 187px 188px,#eaecec 188px 189px,#f0ded2 189px 190px,#eecfbe 190px 191px,#e2e8ec 191px 192px,#ebecec 192px 193px,#f0e1d8 193px 194px,#efedeb 194px 195px,#dee7ec 195px 196px,#d6e3ec 196px 197px,#e3e9ec 197px 198px,#dae5ec 198px 199px,#e5eaec 199px 200px,#d2e1ec 200px 201px,#cbddea 201px 202px,#dfe7ec 202px 203px,#d1e1ec 203px 204px,#f0dfd5 204px 205px,#f0ddd2 205px 206px,#f0d6c7 206px 207px,#ebecec 207px 208px,#f0dfd5 208px 209px,#d0e0ec 209px 210px,#bed4e5 210px 211px,#efece8 211px 212px,#d9e5ec 212px 213px,#e1e8ec 213px 214px,#ededec 214px 215px,#dae5ec 215px 216px,#e0e8ec 216px 217px,#f0dacc 217px 218px,#efedea 218px 219px,#e5eaec 219px 220px,#e9ecec 220px 221px,#f0ded3 221px 222px,#e3e9ec 222px 223px,#e9ecec 223px 224px,#efedeb 224px 225px,#e9ebec 225px 226px,#d2e1ec 226px 227px,#dfe7ec 227px 228px,#e0e8ec 228px 229px,#f0dbce 229px 230px,#dfe7ec 230px 231px,#d3e2ec 231px 232px,#bcd3e5 232px 233px,#d6e3ec 233px 234px,#c1d7e6 234px 235px,#f0dfd4 235px 236px,#efeeec 236px 237px,#d6e3ec 237px 238px,#efe8e3 238px 239px,#bcd3e5 239px 240px,#dde6ec 240px 241px,#f0dacd 241px 242px,#efe3db 242px 243px,#d5e3ec 243px 244px,#e5eaec 244px 245px,#c7dae8 245px 246px,#d4e2ec 246px 247px,#d6e3ec 247px 248px,#f0d8c9 248px 249px,#efece9 249px 250px,#efe2d9 250px 251px,#efe4dd 251px 252px,#e1e8ec 252px 253px,#ecedec 253px 254px,#efeeeb 254px 255px,#e2e8ec 255px 256px,#eaecec 256px 257px,#ebecec 257px 258px,#efece9 258px 260px,#9dbfd9 260px 261px,#efece8 261px 262px,#b9d1e4 262px 263px,#d6e3ec 263px 264px,#d9e4ec 264px 265px,#d4e2ec 265px 266px,#b9d1e3 266px 267px,#b2cde1 267px 268px,#dbe5ec 268px 269px,#e7eaec 269px 270px,#ebecec 270px 271px,#e8ebec 271px 272px,#cbddea 272px 273px,#ededec 273px 274px,#9fc0da 274px 275px,#efe5df 275px 276px,#dae5ec 276px 277px,#d5e3ec 277px 278px,#efebe7 278px 279px,#d8e4ec 279px 280px,#d6e3ec 280px 281px,#e1e8ec 281px 282px,#dee6ec 282px 283px,#d9e4ec 283px 284px,#b8d0e3 284px 285px,#d7e4ec 285px 286px,#ecedec 286px 287px,#f0d6c7 287px 288px,#e3e9ec 288px 289px,#efedea 289px 290px,#a7c6dd 290px 291px,#b6cfe2 291px 292px,#dfe7ec 292px 293px,#efece9 293px 294px,#d4e2ec 294px 295px,#dae5ec 295px 296px,#d8e4ec 296px 297px,#dee6ec 297px 298px,#cbddea 298px 299px,#e8ebec 299px 300px,#e2e8ec 300px 301px,#e5eaec 301px 302px,#bed4e5 302px 303px,#cddeeb 303px 304px,#e3e9ec 304px 305px,#e8ebec 305px 306px,#ccdeea 306px 307px,#cbddea 307px 308px,#c0d5e6 308px 309px,#e4e9ec 309px 310px,#efeeec 310px 311px,#efe6e0 311px 312px,#efe6df 312px 313px,#dce6ec 313px 314px,#d2e1ec 314px 315px,#cadce9 315px 316px,#d2e2ec 316px 317px,#bcd3e5 317px 318px,#dee7ec 318px 319px,#cadce9 319px 320px,#e0e7ec 320px 321px,#b6cfe2 321px 322px,#dce6ec 322px 323px,#b7d0e3 323px 324px,#d4e2ec 324px 325px,#d7e4ec 325px 326px)"></div><div style="position:absolute;left:402.50px;top:79px;width:10.95px;height:326px;background:linear-gradient(to bottom,#bbd3e4 0px 1px,#acc9df 1px 2px,#abc8de 2px 3px,#bdd3e5 3px 4px,#a0c1da 4px 5px,#a6c5dd 5px 6px,#b1cce1 6px 7px,#b1cce0 7px 8px,#aac7de 8px 9px,#bfd5e6 9px 10px,#b4cee2 10px 11px,#cfdfeb 11px 12px,#c6dae8 12px 13px,#bed4e5 13px 14px,#a0c0da 14px 15px,#90b4d4 15px 16px,#a7c5dd 16px 17px,#8db2d3 17px 18px,#bdd4e5 18px 19px,#abc8de 19px 20px,#b8d1e3 20px 21px,#adc9df 21px 22px,#a7c5dd 22px 23px,#acc9df 23px 24px,#a0c1db 24px 25px,#a9c7de 25px 26px,#a5c4dc 26px 27px,#a3c3db 27px 28px,#a1c1db 28px 29px,#a2c2db 29px 30px,#a3c2db 30px 31px,#adc9df 31px 32px,#b0cbe0 32px 33px,#adc9df 33px 34px,#bfd5e5 34px 35px,#a7c5dd 35px 36px,#acc8df 36px 37px,#b4cee1 37px 38px,#9abcd8 38px 39px,#a4c3dc 39px 40px,#bad2e4 40px 41px,#aac7de 41px 42px,#b4cee2 42px 43px,#a2c2db 43px 44px,#a9c6dd 44px 45px,#c2d7e7 45px 46px,#aac7de 46px 47px,#b0cbe0 47px 48px,#b6cfe2 48px 49px,#9dbed9 49px 50px,#b0cbe0 50px 51px,#a3c3db 51px 52px,#afcbe0 52px 53px,#b6cfe2 53px 54px,#b0cbe0 54px 55px,#a6c5dd 55px 56px,#bbd3e4 56px 57px,#a8c6dd 57px 58px,#bfd5e5 58px 59px,#a4c3dc 59px 60px,#9bbdd8 60px 61px,#acc9df 61px 62px,#c1d6e6 62px 63px,#b0cbe0 63px 64px,#a9c7de 64px 65px,#b7d0e3 65px 66px,#afcae0 66px 67px,#a7c5dd 67px 68px,#b0cbe0 68px 69px,#bad2e4 69px 70px,#bbd2e4 70px 71px,#a3c3db 71px 72px,#b1cce0 72px 73px,#bdd4e5 73px 74px,#aac8de 74px 75px,#99bbd7 75px 76px,#bbd2e4 76px 77px,#b1cce1 77px 78px,#afcbe0 78px 79px,#b3cde1 79px 80px,#a6c4dc 80px 81px,#a4c3dc 81px 82px,#b2cce1 82px 83px,#a4c4dc 83px 84px,#b3cde1 84px 85px,#9abcd8 85px 86px,#98bbd7 86px 87px,#a7c5dd 87px 88px,#a5c4dc 88px 89px,#b1cce0 89px 90px,#c0d6e6 90px 91px,#bed5e5 91px 92px,#a2c2db 92px 93px,#98bbd7 93px 94px,#a8c6dd 94px 95px,#a6c4dc 95px 96px,#b7d0e3 96px 97px,#a1c1db 97px 99px,#9fc0da 99px 100px,#a8c6dd 100px 101px,#a7c5dd 101px 102px,#a4c3dc 102px 103px,#9dbed9 103px 104px,#a5c4dc 104px 105px,#96b9d6 105px 106px,#b6cfe2 106px 107px,#a0c1da 107px 108px,#a8c6dd 108px 109px,#7ea6cd 109px 110px,#bbd3e4 110px 111px,#acc9df 111px 112px,#a5c4dc 112px 113px,#a3c3db 113px 114px,#b0cbe0 114px 115px,#a8c6dd 115px 116px,#b0cbe0 116px 117px,#9bbdd8 117px 118px,#adc9df 118px 119px,#b8d0e3 119px 120px,#aecadf 120px 121px,#b4cee2 121px 122px,#a9c7de 122px 123px,#b7d0e2 123px 124px,#c0d6e6 124px 125px,#a3c3db 125px 126px,#a2c2db 126px 127px,#a5c4dc 127px 128px,#aecadf 128px 129px,#9dbed9 129px 130px,#83aacf 130px 131px,#a0c1db 131px 132px,#95b8d6 132px 133px,#92b6d5 133px 134px,#98bad7 134px 135px,#9cbed9 135px 136px,#a9c7de 136px 137px,#99bbd8 137px 138px,#95b8d6 138px 139px,#96b9d6 139px 140px,#a8c6dd 140px 141px,#a1c1db 141px 142px,#99bbd8 142px 143px,#9dbed9 143px 144px,#a7c5dd 144px 145px,#b6cfe2 145px 146px,#a5c4dc 146px 147px,#96b9d7 147px 148px,#a1c2db 148px 149px,#a8c6dd 149px 150px,#a7c5dd 150px 151px,#a4c3dc 151px 152px,#afcbe0 152px 153px,#b7d0e3 153px 155px,#8fb4d4 155px 156px,#9fc0da 156px 157px,#97bad7 157px 158px,#f0d9cc 158px 159px,#d9e4ec 159px 160px,#f0dbcf 160px 161px,#e6eaec 161px 162px,#f0dcd0 162px 163px,#ebc5b1 163px 164px,#d2e1ec 164px 165px,#efece8 165px 166px,#efe4dc 166px 167px,#efece8 167px 168px,#e7ebec 168px 169px,#efeeec 169px 170px,#cbddea 170px 171px,#e8ebec 171px 172px,#f0d9cc 172px 173px,#e6eaec 173px 174px,#e0e7ec 174px 175px,#e2e8ec 175px 176px,#e2e9ec 176px 177px,#dae5ec 177px 178px,#efedea 178px 179px,#edcab7 179px 180px,#efedeb 180px 181px,#d9e4ec 181px 182px,#f0d8ca 182px 183px,#efebe7 183px 184px,#f0dfd5 184px 185px,#ebecec 185px 186px,#efeae6 186px 187px,#e6eaec 187px 188px,#d1e1ec 188px 189px,#ededec 189px 190px,#e5eaec 190px 191px,#ecedec 191px 192px,#e0e8ec 192px 193px,#efe9e4 193px 194px,#f0d7c9 194px 195px,#e3e9ec 195px 196px,#efe9e4 196px 197px,#efeae6 197px 198px,#e6eaec 198px 199px,#efe2d9 199px 200px,#95b8d6 200px 201px,#dde6ec 201px 202px,#efe4dc 202px 203px,#efeae6 203px 204px,#e2ab90 204px 205px,#ebecec 205px 206px,#efeae6 206px 207px,#dce6ec 207px 208px,#f0e1d7 208px 209px,#adc9df 209px 210px,#d2e1ec 210px 211px,#efebe8 211px 212px,#dde6ec 212px 213px,#efe7e0 213px 214px,#f0d9cc 214px 215px,#f0dacd 215px 216px,#e2e8ec 216px 217px,#edcdba 217px 218px,#efe9e4 218px 219px,#dfe7ec 219px 220px,#e5eaec 220px 221px,#efedeb 221px 222px,#bed4e5 222px 223px,#e1e8ec 223px 224px,#efe4dc 224px 225px,#bed4e5 225px 226px,#d1e1ec 226px 227px,#efe8e2 227px 228px,#d2e1ec 228px 229px,#efedea 229px 230px,#ebecec 230px 231px,#d3e2ec 231px 232px,#c3d8e7 232px 233px,#c8dbe9 233px 234px,#e7eaec 234px 235px,#efe3db 235px 236px,#e2e8ec 236px 237px,#ededec 237px 238px,#dce6ec 238px 239px,#d0e0ec 239px 240px,#e3e9ec 240px 241px,#eaecec 241px 242px,#f0dfd4 242px 243px,#d7e3ec 243px 244px,#dce6ec 244px 245px,#cbddea 245px 246px,#d6e3ec 246px 247px,#efe2da 247px 248px,#efece8 248px 249px,#e5eaec 249px 250px,#efe3da 250px 251px,#f0dbcf 251px 252px,#e9ebec 252px 253px,#efe9e5 253px 254px,#dbe6ec 254px 255px,#d8e4ec 255px 256px,#dce6ec 256px 257px,#e9ebec 257px 258px,#efeae6 258px 259px,#f0dfd4 259px 260px,#9cbed9 260px 261px,#efe7e1 261px 262px,#d2e1ec 262px 263px,#a7c5dd 263px 264px,#dfe7ec 264px 265px,#d4e2ec 265px 266px,#d1e1ec 266px 267px,#dae5ec 267px 268px,#d5e3ec 268px 269px,#e5eaec 269px 270px,#e9ebec 270px 272px,#d8e4ec 272px 273px,#e0e8ec 273px 274px,#c6dae8 274px 275px,#efe8e2 275px 276px,#ededec 276px 277px,#c0d6e6 277px 278px,#f0d7c9 278px 279px,#dae5ec 279px 280px,#eaecec 280px 281px,#b9d1e3 281px 282px,#cedfeb 282px 283px,#dbe5ec 283px 284px,#efeeec 284px 285px,#e6eaec 285px 286px,#c9dce9 286px 287px,#f0d9cc 287px 288px,#efeae6 288px 289px,#efebe7 289px 290px,#9fc0da 290px 291px,#d9e4ec 291px 292px,#efeeec 292px 293px,#dce6ec 293px 294px,#c9dce9 294px 295px,#e8ebec 295px 296px,#dae5ec 296px 297px,#b0cbe0 297px 298px,#bad2e4 298px 299px,#dce6ec 299px 300px,#e3e9ec 300px 301px,#f0d9cb 301px 302px,#dbe5ec 302px 303px,#efe6e0 303px 304px,#efe7e1 304px 305px,#f0e0d6 305px 306px,#d6e3ec 306px 307px,#c3d8e7 307px 308px,#d1e1ec 308px 309px,#e0e8ec 309px 310px,#e8ebec 310px 311px,#d9e4ec 311px 312px,#efd1c1 312px 313px,#a4c3dc 313px 314px,#dde6ec 314px 315px,#89aed1 315px 316px,#eaecec 316px 317px,#bad2e4 317px 318px,#d5e3ec 318px 319px,#d9e4ec 319px 320px,#e7eaec 320px 321px,#cddfeb 321px 322px,#cbddea 322px 323px,#d4e2ec 323px 324px,#d8e4ec 324px 325px,#efe8e3 325px 326px)"></div><div style="position:absolute;left:413.40px;top:79px;width:10.55px;height:326px;background:linear-gradient(to bottom,#bad2e4 0px 1px,#c0d6e6 1px 2px,#9abcd8 2px 3px,#b1cce0 3px 4px,#96b9d6 4px 5px,#b2cce1 5px 6px,#a9c6dd 6px 7px,#aecae0 7px 8px,#b2cde1 8px 9px,#c3d8e7 9px 10px,#93b6d5 10px 11px,#aecadf 11px 12px,#b1cce1 12px 13px,#a9c6de 13px 14px,#97bad7 14px 15px,#9bbdd9 15px 16px,#a5c4dc 16px 17px,#a6c4dc 17px 18px,#a8c6dd 18px 19px,#b2cce1 19px 20px,#b7d0e3 20px 21px,#a8c6dd 21px 22px,#acc8df 22px 23px,#a3c2db 23px 24px,#97bad7 24px 25px,#b5cee2 25px 26px,#acc9df 26px 27px,#aecadf 27px 28px,#8ab0d2 28px 29px,#a3c3db 29px 30px,#abc8de 30px 31px,#a8c6dd 31px 32px,#b9d1e3 32px 33px,#afcae0 33px 34px,#b5cfe2 34px 35px,#acc9df 35px 36px,#afcbe0 36px 37px,#c0d6e6 37px 38px,#90b5d4 38px 39px,#b0cce0 39px 40px,#b3cde1 40px 41px,#a8c6dd 41px 42px,#a5c4dc 42px 43px,#a4c3dc 43px 44px,#c2d7e7 44px 45px,#aac7de 45px 46px,#b4cee1 46px 47px,#adc9df 47px 48px,#c5d9e8 48px 49px,#aac7de 49px 50px,#b3cde1 50px 51px,#a3c3dc 51px 52px,#b2cde1 52px 53px,#b6cfe2 53px 54px,#b1cce1 54px 55px,#b5cfe2 55px 56px,#c3d8e7 56px 57px,#a4c4dc 57px 58px,#c2d7e7 58px 59px,#abc8de 59px 60px,#aac8de 60px 61px,#adc9df 61px 62px,#98bbd7 62px 63px,#a6c5dd 63px 64px,#afcae0 64px 65px,#acc8df 65px 66px,#abc8de 66px 67px,#a9c7de 67px 68px,#b4cee2 68px 69px,#b4cee1 69px 70px,#b2cce1 70px 71px,#95b8d6 71px 72px,#c2d7e7 72px 73px,#b5cfe2 73px 74px,#c0d6e6 74px 75px,#98bbd7 75px 76px,#aac8de 76px 77px,#97bad7 77px 78px,#aecadf 78px 79px,#a5c4dc 79px 80px,#a9c7de 80px 81px,#a8c6dd 81px 82px,#b1cce0 82px 83px,#abc8de 83px 84px,#a3c3dc 84px 85px,#91b5d4 85px 86px,#a2c2db 86px 87px,#b2cde1 87px 88px,#b6cfe2 88px 89px,#a3c3dc 89px 90px,#c2d7e7 90px 91px,#c5d9e8 91px 92px,#a6c5dd 92px 93px,#a6c4dc 93px 94px,#9ebfda 94px 95px,#acc9df 95px 96px,#b3cde1 96px 97px,#9dbed9 97px 98px,#adc9df 98px 99px,#93b7d5 99px 100px,#a3c2db 100px 101px,#a6c4dc 101px 102px,#a7c5dd 102px 103px,#adc9df 103px 104px,#b4cee1 104px 105px,#a0c1da 105px 106px,#afcbe0 106px 107px,#a0c1da 107px 108px,#abc8de 108px 109px,#9bbdd8 109px 110px,#9cbed9 110px 111px,#97b9d7 111px 112px,#a1c1db 112px 113px,#95b8d6 113px 114px,#b4cee1 114px 115px,#93b6d5 115px 116px,#b4cee2 116px 117px,#9dbed9 117px 118px,#a0c0da 118px 119px,#a1c1db 119px 120px,#b0cbe0 120px 121px,#b1cce1 121px 122px,#b6cfe2 122px 123px,#b0cbe0 123px 124px,#b1cce0 124px 125px,#9abcd8 125px 126px,#a9c7de 126px 127px,#adc9df 127px 128px,#a1c1db 128px 129px,#8db2d3 129px 130px,#88aed1 130px 131px,#aac7de 131px 132px,#92b6d5 132px 133px,#8db2d3 133px 134px,#9bbdd8 134px 135px,#9fc0da 135px 136px,#a7c5dd 136px 138px,#a0c1da 138px 139px,#9bbdd8 139px 140px,#a0c1da 140px 141px,#9ebfda 141px 142px,#a8c6dd 142px 143px,#a7c5dd 143px 144px,#b5cfe2 144px 145px,#acc8df 145px 146px,#a4c3dc 146px 147px,#97bad7 147px 148px,#9cbed9 148px 149px,#b6cfe2 149px 150px,#afcbe0 150px 151px,#b9d1e3 151px 152px,#b7d0e3 152px 153px,#b6cfe2 153px 154px,#adc9df 154px 155px,#a8c6dd 155px 156px,#9bbdd9 156px 157px,#a0c1da 157px 158px,#e4e9ec 158px 159px,#f0dfd4 159px 160px,#ecedec 160px 161px,#eeeeec 161px 162px,#efe4dc 162px 163px,#efeeec 163px 164px,#e3e9ec 164px 165px,#f0d6c6 165px 166px,#f0d9cb 166px 167px,#efe7e1 167px 168px,#efe5de 168px 169px,#c8dbe9 169px 170px,#dce6ec 170px 171px,#d9e4ec 171px 172px,#efe7e1 172px 173px,#e7ebec 173px 174px,#dae5ec 174px 175px,#e4e9ec 175px 176px,#d8e4ec 176px 177px,#c7dae8 177px 178px,#d4e2ec 178px 179px,#f0d8ca 179px 180px,#dae5ec 180px 181px,#e0e7ec 181px 182px,#f0dcd0 182px 183px,#f0d8c9 183px 184px,#f0d7c8 184px 185px,#efedea 185px 186px,#f0dcd0 186px 187px,#ebecec 187px 188px,#dee7ec 188px 189px,#efd3c2 189px 190px,#f0e1d8 190px 191px,#efeae6 191px 192px,#e4e9ec 192px 193px,#dde6ec 193px 194px,#efedeb 194px 195px,#cddeeb 195px 196px,#efe9e4 196px 197px,#d9e5ec 197px 198px,#dfe7ec 198px 199px,#e5eaec 199px 200px,#d2e2ec 200px 201px,#e9ebec 201px 202px,#eeeeec 202px 203px,#efe6df 203px 204px,#eed0be 204px 205px,#dde6ec 205px 206px,#efe5de 206px 207px,#d9e5ec 207px 208px,#f0dcd0 208px 209px,#bed4e5 209px 210px,#ccdeea 210px 211px,#efe4dd 211px 212px,#a9c7de 212px 213px,#c7dbe8 213px 214px,#eaecec 214px 215px,#e5eaec 215px 216px,#e4e9ec 216px 217px,#f0e0d7 217px 218px,#eaecec 218px 219px,#b8d1e3 219px 220px,#d6e3ec 220px 221px,#efece9 221px 222px,#a4c3dc 222px 223px,#efebe8 223px 224px,#eed0be 224px 225px,#cddeeb 225px 226px,#efeae5 226px 227px,#f0dbcf 227px 228px,#efecea 228px 229px,#e3e9ec 229px 230px,#dae5ec 230px 231px,#ecedec 231px 232px,#ccdeea 232px 233px,#b6cfe2 233px 234px,#c8dbe9 234px 235px,#efeeeb 235px 236px,#f0e0d6 236px 237px,#c6dae8 237px 238px,#dce6ec 238px 239px,#d7e4ec 239px 240px,#f0d8c9 240px 241px,#efe4dc 241px 242px,#efe2da 242px 243px,#d9e4ec 243px 244px,#bdd4e5 244px 245px,#dbe5ec 245px 246px,#e6eaec 246px 247px,#efece9 247px 248px,#f0d6c6 248px 249px,#f0d8c9 249px 250px,#f0dcd0 250px 251px,#ecedec 251px 252px,#dce6ec 252px 253px,#e5eaec 253px 254px,#e1e8ec 254px 255px,#cddeeb 255px 256px,#efebe8 256px 257px,#dbe5ec 257px 258px,#efe9e4 258px 259px,#eeeeec 259px 260px,#cddfeb 260px 261px,#ebc7b3 261px 262px,#d3e2ec 262px 263px,#97bad7 263px 264px,#aecadf 264px 265px,#ccdeea 265px 266px,#cedfeb 266px 267px,#dae5ec 267px 268px,#d8e4ec 268px 269px,#c8dbe9 269px 270px,#f0dfd4 270px 271px,#ebecec 271px 272px,#d0e0ec 272px 273px,#e3e9ec 273px 274px,#d3e2ec 274px 275px,#efe9e4 275px 276px,#e6eaec 276px 277px,#dfe7ec 277px 278px,#f0e0d6 278px 279px,#dae5ec 279px 280px,#f0e1d7 280px 281px,#e6eaec 281px 282px,#d9e4ec 282px 283px,#d7e4ec 283px 284px,#dde6ec 284px 285px,#e3e9ec 285px 286px,#cedfeb 286px 287px,#efe5df 287px 288px,#f0dbce 288px 289px,#e8ebec 289px 290px,#a6c5dd 290px 291px,#e2e9ec 291px 292px,#dce6ec 292px 293px,#dde6ec 293px 294px,#cddeea 294px 295px,#c3d8e7 295px 296px,#e1e8ec 296px 297px,#d5e3ec 297px 298px,#e7eaec 298px 299px,#efedea 299px 300px,#e3e9ec 300px 301px,#d4e2ec 301px 302px,#b4cee2 302px 303px,#e0e7ec 303px 304px,#d8e4ec 304px 305px,#f0dccf 305px 306px,#bdd4e5 306px 307px,#ebecec 307px 309px,#d7e4ec 309px 310px,#e7eaec 310px 311px,#e1e8ec 311px 312px,#eecdbb 312px 313px,#a2c2db 313px 314px,#b5cee2 314px 315px,#98bbd7 315px 316px,#a2c2db 316px 317px,#ededec 317px 318px,#e3e9ec 318px 319px,#b3cde1 319px 320px,#c2d7e7 320px 321px,#d7e3ec 321px 322px,#c5d9e8 322px 323px,#bdd4e5 323px 324px,#dee7ec 324px 325px,#efe2d9 325px 326px)"></div><div style="position:absolute;left:423.90px;top:79px;width:10.55px;height:326px;background:linear-gradient(to bottom,#a0c1da 0px 1px,#b5cfe2 1px 2px,#b2cce1 2px 3px,#a7c5dd 3px 4px,#a5c4dc 4px 5px,#9fc0da 5px 6px,#a6c5dd 6px 7px,#aac7de 7px 8px,#a6c5dd 8px 9px,#a3c3dc 9px 11px,#abc8de 11px 12px,#9cbed9 12px 13px,#bad2e4 13px 14px,#abc8de 14px 15px,#a3c3db 15px 16px,#abc8de 16px 17px,#8eb2d3 17px 18px,#b6cfe2 18px 19px,#adc9df 19px 20px,#b5cfe2 20px 21px,#bdd4e5 21px 22px,#aac7de 22px 23px,#afcbe0 23px 24px,#a1c1db 24px 25px,#afcbe0 25px 26px,#a9c7de 26px 27px,#a7c5dd 27px 28px,#88aed1 28px 29px,#99bbd8 29px 30px,#96b9d6 30px 31px,#98bbd7 31px 32px,#b9d1e3 32px 33px,#abc8de 33px 34px,#a1c1db 34px 35px,#a0c1db 35px 36px,#a3c3db 36px 37px,#9abcd8 37px 38px,#9cbed9 38px 39px,#acc8df 39px 40px,#a7c5dd 40px 41px,#a9c6de 41px 42px,#a1c1db 42px 43px,#a2c2db 43px 44px,#9abcd8 44px 45px,#7da5cc 45px 46px,#a2c2db 46px 47px,#99bbd8 47px 48px,#a2c2db 48px 49px,#a1c1db 49px 50px,#abc8de 50px 51px,#8db2d3 51px 52px,#97bad7 52px 53px,#a7c5dd 53px 54px,#a8c6dd 54px 55px,#98bad7 55px 56px,#96b9d7 56px 57px,#9dbed9 57px 58px,#a1c1db 58px 59px,#a5c4dc 59px 60px,#96b9d6 60px 61px,#a9c6dd 61px 62px,#8aafd1 62px 63px,#99bcd8 63px 64px,#aac7de 64px 65px,#9dbed9 65px 66px,#8db2d3 66px 67px,#8cb1d2 67px 68px,#8db2d3 68px 69px,#a9c6de 69px 70px,#90b4d4 70px 71px,#a5c4dc 71px 72px,#86acd0 72px 73px,#9dbed9 73px 74px,#91b5d4 74px 75px,#9fc0da 75px 76px,#a4c3dc 76px 78px,#adc9df 78px 79px,#97bad7 79px 80px,#8fb3d3 80px 81px,#9abcd8 81px 82px,#98bad7 82px 83px,#95b8d6 83px 84px,#8eb2d3 84px 85px,#acc8df 85px 86px,#94b7d6 86px 87px,#9ebfda 87px 88px,#8fb4d4 88px 89px,#9cbdd9 89px 90px,#94b7d6 90px 91px,#80a7cd 91px 92px,#93b6d5 92px 93px,#99bbd7 93px 94px,#9bbcd8 94px 95px,#7ba3cb 95px 96px,#9cbdd9 96px 97px,#91b5d4 97px 98px,#77a0ca 98px 99px,#93b6d5 99px 100px,#8eb3d3 100px 101px,#a3c2db 101px 102px,#95b8d6 102px 103px,#a3c2db 103px 104px,#8bb0d2 104px 105px,#a5c4dc 105px 106px,#78a1ca 106px 107px,#9cbed9 107px 108px,#8bb0d2 108px 109px,#94b7d5 109px 110px,#95b8d6 110px 111px,#88aed1 111px 112px,#aac7de 112px 113px,#8bb0d2 113px 114px,#9abcd8 114px 115px,#9cbed9 115px 116px,#94b7d5 116px 117px,#8bb0d2 117px 118px,#91b5d4 118px 119px,#97b9d7 119px 120px,#a0c1db 120px 121px,#85acd0 121px 122px,#8db2d3 122px 123px,#a0c0da 123px 124px,#86acd0 124px 125px,#97b9d7 125px 126px,#9fc0da 126px 127px,#8db2d3 127px 128px,#9bbdd8 128px 129px,#7fa7cd 129px 130px,#81a8ce 130px 131px,#98bbd7 131px 132px,#80a7cd 132px 133px,#9abcd8 133px 134px,#9dbed9 134px 135px,#7ca4cc 135px 136px,#81a8ce 136px 137px,#759fc9 137px 138px,#a5c4dc 138px 139px,#76a0c9 139px 140px,#86acd0 140px 141px,#a0c0da 141px 142px,#85abcf 142px 143px,#99bbd7 143px 144px,#8eb2d3 144px 145px,#80a7cd 145px 146px,#93b7d5 146px 147px,#86acd0 147px 148px,#7aa3cb 148px 149px,#8db2d3 149px 151px,#76a0ca 151px 152px,#87add0 152px 153px,#86add0 153px 154px,#9abcd8 154px 155px,#8cb1d2 155px 156px,#7aa3cb 156px 157px,#8cb1d2 157px 158px,#f0d9cb 158px 159px,#edcdbb 159px 160px,#e1a68a 160px 161px,#efe3dc 161px 162px,#f0dace 162px 163px,#e4b197 163px 164px,#dc9c80 164px 165px,#f0d8ca 165px 166px,#efe4dd 166px 167px,#efe2d9 167px 168px,#ebc4b0 168px 169px,#ecc9b5 169px 170px,#edcbb9 170px 171px,#eecfbe 171px 172px,#f0d5c5 172px 173px,#f0e1d8 173px 174px,#e9bfaa 174px 175px,#f0d5c5 175px 176px,#efeae6 176px 177px,#edcbb9 177px 178px,#efd2c1 178px 179px,#f0dcd0 179px 180px,#e5b39a 180px 181px,#efe5de 181px 182px,#e2aa8f 182px 183px,#f0dacc 183px 184px,#e3ac92 184px 185px,#e8bba4 185px 186px,#f0e1d8 186px 187px,#f0dacc 187px 188px,#e7baa3 188px 189px,#efe3da 189px 190px,#f0ddd2 190px 191px,#f0ddd1 191px 192px,#e7b8a0 192px 193px,#f0d5c6 193px 194px,#f0d6c6 194px 195px,#efe6e0 195px 196px,#e1a689 196px 197px,#f0d5c5 197px 199px,#e9c0aa 199px 200px,#e7baa3 200px 201px,#f0d6c7 201px 202px,#e1a78c 202px 203px,#f0d6c6 203px 204px,#ecc8b5 204px 205px,#efd1c0 205px 206px,#f0dacd 206px 207px,#d79279 207px 208px,#f0ded3 208px 209px,#e4b197 209px 210px,#e7baa2 210px 211px,#e5b49c 211px 212px,#f0e1d7 212px 213px,#ecc9b5 213px 214px,#e4b096 214px 215px,#f0d5c4 215px 216px,#eecebc 216px 217px,#e9bea8 217px 218px,#efd2c1 218px 219px,#e3ad93 219px 220px,#efe3db 220px 221px,#f0d6c7 221px 222px,#ecc8b5 222px 223px,#e2aa8e 223px 224px,#f0dfd5 224px 225px,#f0ddd2 225px 226px,#e7b9a2 226px 227px,#f0e0d7 227px 228px,#f0dfd5 228px 229px,#edcab7 229px 230px,#e5b49b 230px 231px,#e2a98d 231px 232px,#f0e0d6 232px 233px,#edccba 233px 234px,#e5b299 234px 235px,#e9c0aa 235px 236px,#eac2ad 236px 237px,#edcab7 237px 238px,#f0ded4 238px 239px,#f0d5c5 239px 240px,#e7b9a2 240px 241px,#e9c0aa 241px 242px,#ebc6b2 242px 243px,#efd1c1 243px 244px,#eecfbd 244px 245px,#f0d5c6 245px 246px,#f0dacd 246px 247px,#e7baa3 247px 248px,#edccba 248px 249px,#e8bca6 249px 250px,#e6b79f 250px 251px,#e5b299 251px 252px,#eed0bf 252px 253px,#f0e1d8 253px 254px,#e2ab90 254px 255px,#ebc7b3 255px 256px,#e8bda7 256px 257px,#e6b79f 257px 258px,#f0e0d6 258px 259px,#ecc7b4 259px 260px,#d8947a 260px 261px,#eac2ae 261px 262px,#cc7c67 262px 263px,#e9bfa9 263px 264px,#f0dfd5 264px 265px,#e6b79f 265px 266px,#e4b197 266px 267px,#e7b8a1 267px 268px,#f0d7c7 268px 269px,#eed0be 269px 270px,#ebc5b1 270px 271px,#efe4dc 271px 272px,#f0d9cc 272px 273px,#f0d9cb 273px 275px,#f0d4c4 275px 276px,#f0d5c5 276px 277px,#eac4af 277px 278px,#e5b49b 278px 279px,#e9bfaa 279px 280px,#d79279 280px 281px,#ecc9b5 281px 282px,#d9967c 282px 283px,#ecc9b6 283px 284px,#f0dbcf 284px 285px,#efd3c3 285px 286px,#efe6e0 286px 287px,#f0d6c6 287px 288px,#efe8e2 288px 289px,#e8bda7 289px 290px,#efe6df 290px 291px,#efd3c2 291px 292px,#e8bba5 292px 293px,#e5b39a 293px 294px,#e8bba4 294px 295px,#eac1ac 295px 296px,#e7b9a2 296px 297px,#e6b79f 297px 298px,#dc9b7f 298px 299px,#cd7f6a 299px 300px,#f0ddd1 300px 301px,#efd2c1 301px 302px,#e9bea8 302px 303px,#eecebd 303px 304px,#e1a78b 304px 305px,#efe8e3 305px 306px,#e0a488 306px 307px,#eed0be 307px 308px,#e2a98d 308px 309px,#e1a68a 309px 310px,#ebc5b1 310px 311px,#e6b49c 311px 312px,#e5b39a 312px 313px,#eac4af 313px 314px,#efe8e2 314px 315px,#e5b39b 315px 316px,#d69077 316px 317px,#e7b7a0 317px 318px,#eecebc 318px 319px,#e7b8a0 319px 320px,#ebc7b3 320px 321px,#f0d8ca 321px 322px,#ecc8b5 322px 323px,#e3ad93 323px 324px,#f0dfd5 324px 325px,#edcbb8 325px 326px)"></div><div style="position:absolute;left:434.40px;top:79px;width:10.85px;height:326px;background:linear-gradient(to bottom,#9dbfd9 0px 1px,#a7c5dd 1px 2px,#97b9d7 2px 3px,#a8c6dd 3px 4px,#a6c5dc 4px 5px,#acc9df 5px 6px,#aac7de 6px 8px,#b1cce1 8px 9px,#8cb1d2 9px 10px,#b4cee2 10px 11px,#aecadf 11px 12px,#abc8de 12px 13px,#bad2e4 13px 14px,#a5c4dc 14px 15px,#9ec0da 15px 16px,#a6c5dc 16px 17px,#a5c4dc 17px 18px,#a9c7de 18px 19px,#a6c5dd 19px 20px,#b1cce1 20px 21px,#acc9df 21px 23px,#aac7de 23px 24px,#a1c1db 24px 25px,#a6c5dd 25px 26px,#b0cbe0 26px 27px,#a5c4dc 27px 28px,#8cb1d2 28px 29px,#9cbed9 29px 30px,#95b8d6 30px 32px,#a9c7de 32px 33px,#a5c4dc 33px 34px,#a6c5dc 34px 35px,#9dbed9 35px 36px,#9ebfd9 36px 37px,#b1cce0 37px 38px,#91b5d4 38px 39px,#b1cce1 39px 40px,#97bad7 40px 41px,#9cbed9 41px 42px,#a8c6dd 42px 43px,#98bbd7 43px 44px,#9bbdd8 44px 45px,#a3c2db 45px 46px,#a8c6dd 46px 47px,#91b5d4 47px 48px,#a9c7de 48px 49px,#a8c6dd 49px 50px,#9fc0da 50px 51px,#9cbdd9 51px 52px,#80a8cd 52px 53px,#b0cbe0 53px 54px,#9abcd8 54px 55px,#a1c2db 55px 56px,#adc9df 56px 57px,#9abcd8 57px 58px,#adc9df 58px 59px,#9fc0da 59px 60px,#87add0 60px 61px,#a2c2db 61px 63px,#8aafd2 63px 64px,#9fc0da 64px 65px,#8cb1d2 65px 66px,#81a8ce 66px 67px,#a1c1db 67px 68px,#a1c2db 68px 69px,#92b6d5 69px 70px,#9abcd8 70px 71px,#9fc0da 71px 72px,#84aacf 72px 73px,#aac7de 73px 74px,#b0cbe0 74px 75px,#9dbfd9 75px 76px,#95b8d6 76px 77px,#94b7d6 77px 78px,#a2c2db 78px 79px,#8bb0d2 79px 80px,#a1c1db 80px 81px,#a3c3db 81px 82px,#89afd1 82px 83px,#8fb3d3 83px 84px,#8aafd2 84px 85px,#a9c6de 85px 86px,#9dbed9 86px 87px,#a4c3dc 87px 88px,#97bad7 88px 89px,#92b6d5 89px 90px,#aac7de 90px 91px,#80a8ce 91px 92px,#8eb2d3 92px 93px,#91b5d4 93px 94px,#85abcf 94px 95px,#739dc8 95px 96px,#a5c4dc 96px 97px,#96b9d6 97px 98px,#92b5d5 98px 99px,#8db2d3 99px 100px,#a2c2db 100px 101px,#a3c3db 101px 102px,#85abcf 102px 103px,#9fc0da 103px 104px,#aac7de 104px 105px,#9ebfda 105px 106px,#89afd1 106px 107px,#a5c4dc 107px 108px,#a2c2db 108px 109px,#8eb3d3 109px 110px,#92b6d5 110px 111px,#82a9ce 111px 112px,#a9c7de 112px 113px,#8fb3d3 113px 114px,#9cbdd9 114px 115px,#9abcd8 115px 116px,#92b6d5 116px 117px,#97b9d7 117px 118px,#9cbed9 118px 119px,#7fa7cd 119px 120px,#94b7d6 120px 121px,#84abcf 121px 122px,#85acd0 122px 123px,#a4c4dc 123px 124px,#98bbd7 124px 125px,#93b7d5 125px 126px,#a0c0da 126px 127px,#8eb2d3 127px 128px,#8aafd2 128px 129px,#8eb3d3 129px 130px,#8cb1d2 130px 131px,#98bbd7 131px 132px,#91b5d4 132px 133px,#8cb1d2 133px 134px,#9bbdd8 134px 135px,#739ec8 135px 136px,#80a7cd 136px 137px,#81a8ce 137px 138px,#8cb1d2 138px 139px,#769fc9 139px 140px,#7fa7cd 140px 141px,#9abcd8 141px 142px,#81a8ce 142px 143px,#80a7cd 143px 144px,#88aed1 144px 145px,#7ca4cc 145px 146px,#8cb1d2 146px 147px,#93b6d5 147px 148px,#8aafd1 148px 149px,#8fb3d4 149px 150px,#85abcf 150px 151px,#81a8ce 151px 153px,#83aacf 153px 154px,#9abcd8 154px 155px,#7ea6cd 155px 156px,#749ec8 156px 157px,#7ba4cc 157px 158px,#de9f83 158px 159px,#f0d6c7 159px 160px,#e9bea8 160px 161px,#e3e9ec 161px 162px,#f0d7c7 162px 163px,#f0d8ca 163px 164px,#e9bfa9 164px 165px,#efd2c1 165px 166px,#f0e1d8 166px 167px,#efebe7 167px 168px,#eeedec 168px 169px,#ecc9b5 169px 170px,#f0dacd 170px 171px,#e5b49b 171px 172px,#efd2c1 172px 173px,#eed0be 173px 174px,#e3ad93 174px 175px,#f0d6c7 175px 176px,#f0d9cc 176px 177px,#eccab7 177px 178px,#efd3c3 178px 179px,#f0dccf 179px 180px,#f0ddd2 180px 181px,#ededec 181px 182px,#da987e 182px 183px,#f0ded3 183px 184px,#edcdbb 184px 185px,#f0d4c4 185px 186px,#e8ebec 186px 187px,#e9bfa9 187px 188px,#f0d4c4 188px 189px,#ededec 189px 190px,#e9bfa9 190px 191px,#e8ebec 191px 192px,#eac3af 192px 193px,#f0e0d6 193px 194px,#f0e1d8 194px 195px,#e8ebec 195px 196px,#e4af95 196px 197px,#f0d7c8 197px 198px,#e6b59c 198px 199px,#f0d6c6 199px 200px,#ebc5b0 200px 201px,#eac4af 201px 202px,#e5b49b 202px 203px,#f0ddd1 203px 204px,#f0d7c8 204px 205px,#efe6df 205px 206px,#efe8e2 206px 207px,#eecebc 207px 208px,#f0dace 208px 209px,#ebc7b3 209px 210px,#edcdbb 210px 211px,#f0d6c6 211px 212px,#edcab7 212px 213px,#e1a88c 213px 214px,#efd1c0 214px 215px,#f0e1d8 215px 216px,#efe2d9 216px 217px,#e8bba4 217px 218px,#e9bea8 218px 219px,#f0ddd1 219px 220px,#efe7e1 220px 221px,#efe4dd 221px 222px,#efe3db 222px 223px,#d9977c 223px 224px,#eeedec 224px 225px,#f0d8c9 225px 226px,#f0dbce 226px 227px,#efe8e2 227px 228px,#e6b79f 228px 229px,#f0e1d7 229px 230px,#e2ab90 230px 231px,#e9c0aa 231px 232px,#f0dcd1 232px 233px,#f0dccf 233px 234px,#e2aa8f 234px 235px,#f0d8ca 235px 236px,#f0d9cb 236px 237px,#ebc7b3 237px 238px,#f0ded3 238px 239px,#f0dbcf 239px 240px,#eac3af 240px 241px,#e2a88c 241px 242px,#cd7f6a 242px 243px,#e9bea7 243px 244px,#efd2c2 244px 245px,#efe9e4 245px 246px,#f0dfd5 246px 247px,#e9c0aa 247px 248px,#efd2c1 248px 249px,#ecc9b6 249px 250px,#ecc7b4 250px 251px,#eecdbb 251px 252px,#e8bda7 252px 253px,#f0d7c8 253px 254px,#eecfbe 254px 255px,#efd3c3 255px 256px,#e2a98d 256px 257px,#e3ac91 257px 258px,#ebc4b0 258px 259px,#e8bda7 259px 260px,#d9957b 260px 261px,#f0dccf 261px 262px,#dea083 262px 263px,#e2aa8f 263px 264px,#edcdbb 264px 265px,#f0dcd0 265px 266px,#e1a78a 266px 267px,#e8bca6 267px 268px,#efe2d9 268px 269px,#e8bca6 269px 270px,#e1a589 270px 271px,#f0dbce 271px 272px,#e2aa8f 272px 273px,#efd3c3 273px 274px,#ecc9b6 274px 275px,#e5b198 275px 276px,#f0d9cb 276px 277px,#dfa184 277px 278px,#e6b7a0 278px 279px,#e9c0aa 279px 280px,#e5b39a 280px 281px,#d8937a 281px 282px,#f0d6c6 282px 283px,#efd1c0 283px 284px,#f0e1d7 284px 285px,#f0d7c8 285px 286px,#efe8e3 286px 287px,#f0dfd5 287px 288px,#edcdba 288px 289px,#e4af95 289px 290px,#efe4dd 290px 291px,#efe3db 291px 292px,#e6b79f 292px 293px,#e5b49b 293px 294px,#eed0be 294px 295px,#ebc5b1 295px 296px,#efe2da 296px 297px,#e8bca5 297px 298px,#e2a98d 298px 299px,#e2aa8e 299px 300px,#eac3ae 300px 302px,#e3ac91 302px 303px,#efe6e0 303px 304px,#e5b299 304px 305px,#efe8e2 305px 306px,#e5b39a 306px 307px,#efe4dc 307px 308px,#d18770 308px 309px,#e9bfa9 309px 310px,#d68f77 310px 311px,#efd2c1 311px 312px,#e9bea8 312px 313px,#e9bfa9 313px 314px,#e7b8a1 314px 315px,#e1a689 315px 316px,#e2aa8f 316px 317px,#e8bca5 317px 318px,#e7baa3 318px 319px,#e4b096 319px 320px,#eac2ae 320px 321px,#eecfbd 321px 322px,#f0dccf 322px 323px,#e2a98e 323px 324px,#f0e0d7 324px 325px,#f0d5c6 325px 326px)"></div><div style="position:absolute;left:445.20px;top:79px;width:11.55px;height:326px;background:linear-gradient(to bottom,#9dbed9 0px 1px,#a6c5dd 1px 2px,#a5c4dc 2px 3px,#a2c2db 3px 4px,#9ec0da 4px 5px,#b5cfe2 5px 6px,#9bbdd8 6px 7px,#adcadf 7px 8px,#8db2d3 8px 9px,#a0c1da 9px 10px,#a3c3db 10px 11px,#b2cde1 11px 12px,#b2cce1 12px 13px,#adc9df 13px 14px,#afcbe0 14px 15px,#a5c4dc 15px 16px,#9bbdd8 16px 17px,#9dbed9 17px 18px,#a8c6dd 18px 19px,#a5c4dc 19px 20px,#b6cfe2 20px 21px,#abc8de 21px 22px,#a9c7de 22px 23px,#a5c4dc 23px 24px,#9ebfda 24px 25px,#bcd3e4 25px 26px,#adcadf 26px 27px,#9cbed9 27px 28px,#85acd0 28px 29px,#a6c5dd 29px 30px,#88aed1 30px 31px,#9ebfd9 31px 32px,#b1cce0 32px 33px,#adc9df 33px 34px,#9bbdd8 34px 35px,#86acd0 35px 36px,#a6c5dd 36px 37px,#8aafd1 37px 38px,#9dbed9 38px 39px,#afcae0 39px 40px,#a2c2db 40px 41px,#9bbdd8 41px 42px,#adc9df 42px 43px,#95b8d6 43px 44px,#a2c2db 44px 45px,#99bbd7 45px 46px,#a2c2db 46px 47px,#8eb2d3 47px 48px,#9cbed9 48px 49px,#96b9d6 49px 50px,#bcd3e5 50px 51px,#9abcd8 51px 52px,#86acd0 52px 53px,#a6c4dc 53px 54px,#98bbd7 54px 55px,#a6c4dc 55px 56px,#9dbed9 56px 57px,#9bbdd8 57px 58px,#9ebfda 58px 59px,#8fb3d4 59px 60px,#93b7d5 60px 61px,#a4c3dc 61px 62px,#afcbe0 62px 63px,#9ebfd9 63px 64px,#9ebfda 64px 65px,#93b7d5 65px 66px,#92b6d5 66px 67px,#a2c2db 67px 68px,#8fb3d4 68px 69px,#9ebfda 69px 71px,#98bad7 71px 72px,#7ba3cb 72px 73px,#a7c5dd 73px 74px,#a8c6dd 74px 75px,#97bad7 75px 76px,#a8c6dd 76px 77px,#a4c3dc 77px 78px,#99bbd7 78px 79px,#94b7d6 79px 80px,#a1c1db 80px 81px,#93b7d5 81px 82px,#9fc0da 82px 83px,#80a7cd 83px 84px,#97bad7 84px 85px,#9cbed9 85px 87px,#afcbe0 87px 88px,#9fc0da 88px 90px,#97bad7 90px 91px,#79a2cb 91px 92px,#94b7d5 92px 93px,#90b4d4 93px 94px,#93b7d5 94px 95px,#6f9ac6 95px 96px,#96b9d6 96px 97px,#97bad7 97px 98px,#8bb0d2 98px 99px,#8cb1d2 99px 100px,#98bbd7 100px 101px,#9fc0da 101px 102px,#84abcf 102px 103px,#a1c1db 103px 104px,#a0c1da 104px 105px,#95b8d6 105px 106px,#7aa3cb 106px 107px,#a3c3dc 107px 108px,#90b4d4 108px 110px,#9bbdd8 110px 111px,#86add0 111px 112px,#b8d0e3 112px 113px,#91b5d4 113px 114px,#99bbd8 114px 115px,#96b9d6 115px 116px,#95b8d6 116px 117px,#99bbd7 117px 118px,#a5c4dc 118px 119px,#94b7d6 119px 120px,#91b5d4 120px 121px,#89afd1 121px 122px,#a2c2db 122px 123px,#acc9df 123px 124px,#95b8d6 124px 125px,#93b6d5 125px 126px,#8fb3d4 126px 127px,#86acd0 127px 128px,#9dbed9 128px 129px,#83aacf 129px 130px,#8db2d3 130px 131px,#9abcd8 131px 132px,#7ca5cc 132px 133px,#9cbdd9 133px 134px,#9fc0da 134px 135px,#9bbdd8 135px 136px,#8eb2d3 136px 137px,#80a8ce 137px 138px,#94b8d6 138px 139px,#7ea6cd 139px 140px,#86acd0 140px 141px,#98bbd7 141px 142px,#86add0 142px 143px,#92b6d5 143px 144px,#90b4d4 144px 145px,#8db2d3 145px 146px,#97b9d7 146px 147px,#96b9d6 147px 148px,#8eb3d3 148px 149px,#8cb1d2 149px 150px,#7ca4cc 150px 151px,#86acd0 151px 152px,#8eb3d3 152px 153px,#84aacf 153px 154px,#7ea6cd 154px 155px,#84abcf 155px 156px,#739dc8 156px 157px,#759fc9 157px 158px,#e9bea9 158px 159px,#f0dbce 159px 160px,#e6b59d 160px 161px,#eeeeec 161px 162px,#ecc8b5 162px 163px,#e4b197 163px 164px,#ebc5b1 164px 165px,#efe4dc 165px 166px,#f0dbce 166px 167px,#f0dfd4 167px 168px,#f0dcd1 168px 169px,#dfa184 169px 170px,#efd1c0 170px 171px,#f0d4c4 171px 172px,#edcdbb 172px 173px,#eac2ad 173px 174px,#e9bfa9 174px 175px,#f0d4c4 175px 176px,#efe3da 176px 177px,#efd2c1 177px 178px,#f0dcd0 178px 179px,#efe2da 179px 180px,#efd3c3 180px 181px,#efe8e3 181px 182px,#d68f76 182px 183px,#f0d7c9 183px 184px,#ebc4b0 184px 185px,#e5b49b 185px 186px,#efe7e1 186px 187px,#ebc7b3 187px 188px,#f0ddd2 188px 189px,#efe7e1 189px 190px,#ebc7b3 190px 191px,#e1e8ec 191px 192px,#eccab7 192px 193px,#f0d3c3 193px 194px,#f0dcd0 194px 195px,#efe6df 195px 196px,#e4b197 196px 197px,#e7baa4 197px 198px,#ecc8b5 198px 200px,#ebc5b1 200px 201px,#f0d5c4 201px 202px,#e0a487 202px 203px,#efd2c1 203px 204px,#efe2d9 204px 205px,#f0e0d6 205px 206px,#f0ded2 206px 207px,#dd9d81 207px 208px,#f0d4c4 208px 209px,#eac3ae 209px 210px,#efd3c2 210px 211px,#f0d8ca 211px 212px,#e7baa3 212px 213px,#f0d4c4 213px 214px,#ebc7b3 214px 215px,#efe5df 215px 216px,#e8bda7 216px 217px,#eed0bf 217px 218px,#e3ab90 218px 219px,#e2a98e 219px 220px,#efd1c1 220px 221px,#efe6df 221px 222px,#f0dcd0 222px 223px,#d38b73 223px 224px,#ecedec 224px 225px,#f0dbce 225px 226px,#f0dfd5 226px 227px,#ededec 227px 228px,#e4b198 228px 229px,#f0ddd2 229px 230px,#e2a98e 230px 231px,#e1a78b 231px 232px,#ebc5b1 232px 233px,#eecdbb 233px 234px,#eac2ad 234px 235px,#e0a488 235px 236px,#efd0bf 236px 237px,#e6b59c 237px 238px,#f0d9cb 238px 239px,#edccb9 239px 240px,#f0e1d7 240px 241px,#e8bba5 241px 242px,#e3ac91 242px 243px,#f0e0d6 243px 244px,#e8bda6 244px 245px,#efedea 245px 246px,#f0d8c9 246px 247px,#edcbb8 247px 248px,#f0dacd 248px 249px,#efe4dd 249px 250px,#e9bfaa 250px 251px,#ecc9b6 251px 252px,#eac3af 252px 253px,#f0d4c3 253px 254px,#e7baa3 254px 255px,#ecc8b4 255px 256px,#e4af95 256px 257px,#ecc7b3 257px 258px,#f0d5c5 258px 259px,#e2a88d 259px 260px,#cc7c68 260px 261px,#e8bda6 261px 262px,#dd9d81 262px 263px,#eac2ad 263px 264px,#eecebc 264px 265px,#edccba 265px 266px,#d69077 266px 267px,#ebc4af 267px 268px,#e3ac92 268px 269px,#e7b8a1 269px 270px,#e2a98e 270px 271px,#e9bea8 271px 272px,#e4b198 272px 273px,#e9bfa9 273px 274px,#ebc5b1 274px 275px,#f0dcd0 275px 276px,#f0dccf 276px 277px,#eecdbb 277px 278px,#eac2ad 278px 279px,#de9f83 279px 281px,#e6b49c 281px 282px,#e5b39a 282px 283px,#ebc5b1 283px 284px,#e9c0ab 284px 285px,#eac3ae 285px 286px,#f0dfd4 286px 287px,#f0dacd 287px 288px,#eac2ae 288px 289px,#f0d5c5 289px 290px,#efd2c1 290px 291px,#f0dfd5 291px 292px,#f0d7c8 292px 293px,#e7b8a0 293px 294px,#efe2d9 294px 295px,#f0dacc 295px 296px,#f0dcd0 296px 297px,#e2a98e 297px 298px,#e5b39a 298px 299px,#d9967c 299px 300px,#ebc4b0 300px 301px,#e9bea8 301px 302px,#f0d8c9 302px 303px,#f0dfd5 303px 304px,#ce806b 304px 305px,#efe4dd 305px 306px,#e8bda7 306px 307px,#f0dfd4 307px 308px,#da977d 308px 309px,#e4b097 309px 310px,#dd9c81 310px 311px,#e7b9a2 311px 312px,#e5b49b 312px 313px,#db997e 313px 314px,#f0d5c5 314px 315px,#d69077 315px 316px,#dd9d81 316px 317px,#e7b9a2 317px 318px,#edccba 318px 319px,#e6b69e 319px 320px,#ecc9b5 320px 321px,#efd1c0 321px 322px,#f0d4c4 322px 323px,#dc9c80 323px 324px,#ebc4b0 324px 325px,#e4af96 325px 326px)"></div></div>
<svg width="520" height="416" viewBox="0 0 520 416" font-family='"Liberation Sans", sans-serif' fill="#111">

<text class="ns" x="10.6" y="25.8" font-size="17.6" font-weight="bold" transform="translate(10.6 0) scale(1.1 1) translate(-10.6 0)">A</text>
<text class="ns" x="50.8" y="40.9" font-size="12" textLength="171.5" lengthAdjust="spacingAndGlyphs">Wierenga_STAT5A_Targets_Up</text>
<line x1="42" y1="68.7" x2="231.5" y2="68.7" stroke="#e2e2e2" stroke-width="0.9" stroke-dasharray="0.9 0.7"/><line x1="42" y1="83.0" x2="231.5" y2="83.0" stroke="#e2e2e2" stroke-width="0.9" stroke-dasharray="0.9 0.7"/><line x1="42" y1="97.3" x2="231.5" y2="97.3" stroke="#e2e2e2" stroke-width="0.9" stroke-dasharray="0.9 0.7"/><line x1="42" y1="111.6" x2="231.5" y2="111.6" stroke="#e2e2e2" stroke-width="0.9" stroke-dasharray="0.9 0.7"/><line x1="42" y1="125.9" x2="231.5" y2="125.9" stroke="#e2e2e2" stroke-width="0.9" stroke-dasharray="0.9 0.7"/><line x1="42" y1="54.4" x2="231.5" y2="54.4" stroke="#d4d4d4" stroke-width="1"/><line x1="69.2" y1="49.5" x2="69.2" y2="135.6" stroke="#e6e6e6" stroke-width="0.9" stroke-dasharray="0.9 0.7"/><line x1="96.7" y1="49.5" x2="96.7" y2="135.6" stroke="#e6e6e6" stroke-width="0.9" stroke-dasharray="0.9 0.7"/><line x1="124.1" y1="49.5" x2="124.1" y2="135.6" stroke="#e6e6e6" stroke-width="0.9" stroke-dasharray="0.9 0.7"/><line x1="151.5" y1="49.5" x2="151.5" y2="135.6" stroke="#e6e6e6" stroke-width="0.9" stroke-dasharray="0.9 0.7"/><line x1="179.0" y1="49.5" x2="179.0" y2="135.6" stroke="#e6e6e6" stroke-width="0.9" stroke-dasharray="0.9 0.7"/><line x1="206.5" y1="49.5" x2="206.5" y2="135.6" stroke="#e6e6e6" stroke-width="0.9" stroke-dasharray="0.9 0.7"/><line x1="42" y1="135.8" x2="231.5" y2="135.8" stroke="#e0e0e0" stroke-width="0.8"/><line x1="223" y1="164.3" x2="231.5" y2="164.3" stroke="#e0e0e0" stroke-width="0.8"/>
<rect x="42" y="136.3" width="1" height="27.9" fill="#4d4d4d"/><rect x="43" y="136.3" width="1" height="27.9" fill="#8c8c8c"/><rect x="44" y="136.3" width="1" height="27.9" fill="#666666"/><rect x="45" y="136.3" width="1" height="27.9" fill="#f2f2f2"/><rect x="46" y="136.3" width="1" height="27.9" fill="#999999"/><rect x="47" y="136.3" width="1" height="27.9" fill="#d9d9d9"/><rect x="48" y="136.3" width="1" height="27.9" fill="#e6e6e6"/><rect x="49" y="136.3" width="1" height="27.9" fill="#999999"/><rect x="50" y="136.3" width="1" height="27.9" fill="#8c8c8c"/><rect x="51" y="136.3" width="1" height="27.9" fill="#cccccc"/><rect x="52" y="136.3" width="1" height="27.9" fill="#f2f2f2"/><rect x="53" y="136.3" width="1" height="27.9" fill="#4d4d4d"/><rect x="54" y="136.3" width="1" height="27.9" fill="#808080"/><rect x="55" y="136.3" width="1" height="27.9" fill="#f2f2f2"/><rect x="56" y="136.3" width="1" height="27.9" fill="#bfbfbf"/><rect x="57" y="136.3" width="1" height="27.9" fill="#999999"/><rect x="58" y="136.3" width="1" height="27.9" fill="#e6e6e6"/><rect x="59" y="136.3" width="1" height="27.9" fill="#808080"/><rect x="60" y="136.3" width="1" height="27.9" fill="#f2f2f2"/><rect x="61" y="136.3" width="1" height="27.9" fill="#a6a6a6"/><rect x="62" y="136.3" width="1" height="27.9" fill="#b2b2b2"/><rect x="65" y="136.3" width="1" height="27.9" fill="#f2f2f2"/><rect x="66" y="136.3" width="1" height="27.9" fill="#737373"/><rect x="67" y="136.3" width="1" height="27.9" fill="#595959"/><rect x="68" y="136.3" width="1" height="27.9" fill="#404040"/><rect x="69" y="136.3" width="1" height="27.9" fill="#f2f2f2"/><rect x="70" y="136.3" width="1" height="27.9" fill="#8c8c8c"/><rect x="71" y="136.3" width="1" height="27.9" fill="#808080"/><rect x="72" y="136.3" width="1" height="27.9" fill="#808080"/><rect x="73" y="136.3" width="1" height="27.9" fill="#f2f2f2"/><rect x="74" y="136.3" width="1" height="27.9" fill="#cccccc"/><rect x="75" y="136.3" width="1" height="27.9" fill="#666666"/><rect x="76" y="136.3" width="1" height="27.9" fill="#999999"/><rect x="77" y="136.3" width="1" height="27.9" fill="#525252"/><rect x="78" y="136.3" width="1" height="27.9" fill="#f2f2f2"/><rect x="86" y="136.3" width="1" height="27.9" fill="#e6e6e6"/><rect x="87" y="136.3" width="1" height="27.9" fill="#8c8c8c"/><rect x="88" y="136.3" width="1" height="27.9" fill="#999999"/><rect x="89" y="136.3" width="1" height="27.9" fill="#8c8c8c"/><rect x="90" y="136.3" width="1" height="27.9" fill="#bfbfbf"/><rect x="93" y="136.3" width="1" height="27.9" fill="#e6e6e6"/><rect x="94" y="136.3" width="1" height="27.9" fill="#999999"/><rect x="95" y="136.3" width="1" height="27.9" fill="#cccccc"/><rect x="96" y="136.3" width="1" height="27.9" fill="#b2b2b2"/><rect x="97" y="136.3" width="1" height="27.9" fill="#f2f2f2"/><rect x="98" y="136.3" width="1" height="27.9" fill="#737373"/><rect x="99" y="136.3" width="1" height="27.9" fill="#8c8c8c"/><rect x="100" y="136.3" width="1" height="27.9" fill="#f2f2f2"/><rect x="101" y="136.3" width="1" height="27.9" fill="#e6e6e6"/><rect x="102" y="136.3" width="1" height="27.9" fill="#666666"/><rect x="103" y="136.3" width="1" height="27.9" fill="#8c8c8c"/><rect x="104" y="136.3" width="1" height="27.9" fill="#b2b2b2"/><rect x="105" y="136.3" width="1" height="27.9" fill="#b2b2b2"/><rect x="106" y="136.3" width="1" height="27.9" fill="#f2f2f2"/><rect x="107" y="136.3" width="1" height="27.9" fill="#b2b2b2"/><rect x="108" y="136.3" width="1" height="27.9" fill="#b2b2b2"/><rect x="114" y="136.3" width="1" height="27.9" fill="#d9d9d9"/><rect x="115" y="136.3" width="1" height="27.9" fill="#8c8c8c"/><rect x="116" y="136.3" width="1" height="27.9" fill="#a6a6a6"/><rect x="117" y="136.3" width="1" height="27.9" fill="#f2f2f2"/><rect x="118" y="136.3" width="1" height="27.9" fill="#666666"/><rect x="119" y="136.3" width="1" height="27.9" fill="#808080"/><rect x="120" y="136.3" width="1" height="27.9" fill="#f2f2f2"/><rect x="121" y="136.3" width="1" height="27.9" fill="#f2f2f2"/><rect x="122" y="136.3" width="1" height="27.9" fill="#a6a6a6"/><rect x="123" y="136.3" width="1" height="27.9" fill="#404040"/><rect x="124" y="136.3" width="1" height="27.9" fill="#cccccc"/><rect x="125" y="136.3" width="1" height="27.9" fill="#f2f2f2"/><rect x="126" y="136.3" width="1" height="27.9" fill="#a6a6a6"/><rect x="127" y="136.3" width="1" height="27.9" fill="#d9d9d9"/><rect x="128" y="136.3" width="1" height="27.9" fill="#999999"/><rect x="129" y="136.3" width="1" height="27.9" fill="#999999"/><rect x="130" y="136.3" width="1" height="27.9" fill="#f2f2f2"/><rect x="131" y="136.3" width="1" height="27.9" fill="#f2f2f2"/><rect x="132" y="136.3" width="1" height="27.9" fill="#999999"/><rect x="133" y="136.3" width="1" height="27.9" fill="#8c8c8c"/><rect x="134" y="136.3" width="1" height="27.9" fill="#cccccc"/><rect x="136" y="136.3" width="1" height="27.9" fill="#d9d9d9"/><rect x="137" y="136.3" width="1" height="27.9" fill="#999999"/><rect x="138" y="136.3" width="1" height="27.9" fill="#f2f2f2"/><rect x="139" y="136.3" width="1" height="27.9" fill="#f2f2f2"/><rect x="140" y="136.3" width="1" height="27.9" fill="#cccccc"/><rect x="141" y="136.3" width="1" height="27.9" fill="#a6a6a6"/><rect x="146" y="136.3" width="1" height="27.9" fill="#737373"/><rect x="147" y="136.3" width="1" height="27.9" fill="#cccccc"/><rect x="148" y="136.3" width="1" height="27.9" fill="#b2b2b2"/><rect x="149" y="136.3" width="1" height="27.9" fill="#0d0d0d"/><rect x="150" y="136.3" width="1" height="27.9" fill="#999999"/><rect x="151" y="136.3" width="1" height="27.9" fill="#cccccc"/><rect x="152" y="136.3" width="1" height="27.9" fill="#f2f2f2"/><rect x="153" y="136.3" width="1" height="27.9" fill="#a6a6a6"/><rect x="154" y="136.3" width="1" height="27.9" fill="#bfbfbf"/><rect x="159" y="136.3" width="1" height="27.9" fill="#e6e6e6"/><rect x="160" y="136.3" width="1" height="27.9" fill="#999999"/><rect x="161" y="136.3" width="1" height="27.9" fill="#cccccc"/><rect x="162" y="136.3" width="1" height="27.9" fill="#cccccc"/><rect x="163" y="136.3" width="1" height="27.9" fill="#808080"/><rect x="164" y="136.3" width="1" height="27.9" fill="#262626"/><rect x="165" y="136.3" width="1" height="27.9" fill="#bfbfbf"/><rect x="170" y="136.3" width="1" height="27.9" fill="#f2f2f2"/><rect x="171" y="136.3" width="1" height="27.9" fill="#a6a6a6"/><rect x="172" y="136.3" width="1" height="27.9" fill="#a6a6a6"/><rect x="173" y="136.3" width="1" height="27.9" fill="#d9d9d9"/><rect x="174" y="136.3" width="1" height="27.9" fill="#a6a6a6"/><rect x="175" y="136.3" width="1" height="27.9" fill="#8c8c8c"/><rect x="176" y="136.3" width="1" height="27.9" fill="#8c8c8c"/><rect x="177" y="136.3" width="1" height="27.9" fill="#d9d9d9"/><rect x="178" y="136.3" width="1" height="27.9" fill="#a6a6a6"/><rect x="179" y="136.3" width="1" height="27.9" fill="#e6e6e6"/><rect x="181" y="136.3" width="1" height="27.9" fill="#a6a6a6"/><rect x="182" y="136.3" width="1" height="27.9" fill="#333333"/><rect x="183" y="136.3" width="1" height="27.9" fill="#404040"/><rect x="184" y="136.3" width="1" height="27.9" fill="#d9d9d9"/><rect x="185" y="136.3" width="1" height="27.9" fill="#b2b2b2"/><rect x="186" y="136.3" width="1" height="27.9" fill="#b2b2b2"/><rect x="187" y="136.3" width="1" height="27.9" fill="#ebebeb"/><rect x="188" y="136.3" width="1" height="27.9" fill="#a6a6a6"/><rect x="189" y="136.3" width="1" height="27.9" fill="#cccccc"/><rect x="190" y="136.3" width="1" height="27.9" fill="#cccccc"/><rect x="191" y="136.3" width="1" height="27.9" fill="#999999"/><rect x="192" y="136.3" width="1" height="27.9" fill="#8c8c8c"/><rect x="193" y="136.3" width="1" height="27.9" fill="#737373"/><rect x="194" y="136.3" width="1" height="27.9" fill="#595959"/><rect x="195" y="136.3" width="1" height="27.9" fill="#999999"/><rect x="196" y="136.3" width="1" height="27.9" fill="#808080"/><rect x="197" y="136.3" width="1" height="27.9" fill="#262626"/><rect x="198" y="136.3" width="1" height="27.9" fill="#4d4d4d"/><rect x="199" y="136.3" width="1" height="27.9" fill="#cccccc"/><rect x="200" y="136.3" width="1" height="27.9" fill="#999999"/><rect x="201" y="136.3" width="1" height="27.9" fill="#808080"/><rect x="202" y="136.3" width="1" height="27.9" fill="#404040"/><rect x="203" y="136.3" width="1" height="27.9" fill="#808080"/><rect x="204" y="136.3" width="1" height="27.9" fill="#cccccc"/><rect x="205" y="136.3" width="1" height="27.9" fill="#f2f2f2"/><rect x="206" y="136.3" width="1" height="27.9" fill="#a6a6a6"/><rect x="207" y="136.3" width="1" height="27.9" fill="#ebebeb"/><rect x="208" y="136.3" width="1" height="27.9" fill="#999999"/><rect x="209" y="136.3" width="1" height="27.9" fill="#404040"/><rect x="210" y="136.3" width="1" height="27.9" fill="#4d4d4d"/><rect x="211" y="136.3" width="1" height="27.9" fill="#b2b2b2"/><rect x="212" y="136.3" width="1" height="27.9" fill="#b2b2b2"/><rect x="213" y="136.3" width="1" height="27.9" fill="#8c8c8c"/><rect x="214" y="136.3" width="1" height="27.9" fill="#404040"/><rect x="215" y="136.3" width="1" height="27.9" fill="#333333"/><rect x="216" y="136.3" width="1" height="27.9" fill="#141414"/><rect x="217" y="136.3" width="1" height="27.9" fill="#404040"/><rect x="218" y="136.3" width="1" height="27.9" fill="#474747"/><rect x="219" y="136.3" width="1" height="27.9" fill="#7a7a7a"/><rect x="220" y="136.3" width="1" height="27.9" fill="#4d4d4d"/><rect x="221" y="136.3" width="1" height="27.9" fill="#080808"/><rect x="222" y="136.3" width="1" height="27.9" fill="#191919"/><rect x="223" y="136.3" width="1" height="27.9" fill="#cccccc"/>
<rect x="42.3" y="164.2" width="7.2" height="6.5" fill="#e06868"/><rect x="49.5" y="164.2" width="1.8" height="6.5" fill="#ea9ab0"/><rect x="51.3" y="164.2" width="1.7" height="6.5" fill="#f0c4e2"/><rect x="53" y="164.2" width="65.0" height="6.5" fill="#cac6ea"/><rect x="118" y="164.2" width="41.0" height="6.5" fill="#7777c6"/><rect x="159" y="164.2" width="51.0" height="6.5" fill="#5656ad"/><rect x="210" y="164.2" width="8.5" height="6.5" fill="#3b3b9e"/><rect x="218.5" y="164.2" width="4.3" height="6.5" fill="#3d339a"/><rect x="42" y="164.2" width="1" height="6.5" fill="#000" opacity="0.084"/><rect x="43" y="164.2" width="1" height="6.5" fill="#000" opacity="0.054"/><rect x="44" y="164.2" width="1" height="6.5" fill="#000" opacity="0.072"/><rect x="46" y="164.2" width="1" height="6.5" fill="#000" opacity="0.048"/><rect x="49" y="164.2" width="1" height="6.5" fill="#000" opacity="0.048"/><rect x="50" y="164.2" width="1" height="6.5" fill="#000" opacity="0.054"/><rect x="53" y="164.2" width="1" height="6.5" fill="#000" opacity="0.084"/><rect x="54" y="164.2" width="1" height="6.5" fill="#000" opacity="0.060"/><rect x="56" y="164.2" width="1" height="6.5" fill="#000" opacity="0.030"/><rect x="57" y="164.2" width="1" height="6.5" fill="#000" opacity="0.048"/><rect x="59" y="164.2" width="1" height="6.5" fill="#000" opacity="0.060"/><rect x="61" y="164.2" width="1" height="6.5" fill="#000" opacity="0.042"/><rect x="62" y="164.2" width="1" height="6.5" fill="#000" opacity="0.036"/><rect x="66" y="164.2" width="1" height="6.5" fill="#000" opacity="0.066"/><rect x="67" y="164.2" width="1" height="6.5" fill="#000" opacity="0.078"/><rect x="68" y="164.2" width="1" height="6.5" fill="#000" opacity="0.090"/><rect x="70" y="164.2" width="1" height="6.5" fill="#000" opacity="0.054"/><rect x="71" y="164.2" width="1" height="6.5" fill="#000" opacity="0.060"/><rect x="72" y="164.2" width="1" height="6.5" fill="#000" opacity="0.060"/><rect x="75" y="164.2" width="1" height="6.5" fill="#000" opacity="0.072"/><rect x="76" y="164.2" width="1" height="6.5" fill="#000" opacity="0.048"/><rect x="77" y="164.2" width="1" height="6.5" fill="#000" opacity="0.082"/><rect x="87" y="164.2" width="1" height="6.5" fill="#000" opacity="0.054"/><rect x="88" y="164.2" width="1" height="6.5" fill="#000" opacity="0.048"/><rect x="89" y="164.2" width="1" height="6.5" fill="#000" opacity="0.054"/><rect x="90" y="164.2" width="1" height="6.5" fill="#000" opacity="0.030"/><rect x="94" y="164.2" width="1" height="6.5" fill="#000" opacity="0.048"/><rect x="96" y="164.2" width="1" height="6.5" fill="#000" opacity="0.036"/><rect x="98" y="164.2" width="1" height="6.5" fill="#000" opacity="0.066"/><rect x="99" y="164.2" width="1" height="6.5" fill="#000" opacity="0.054"/><rect x="102" y="164.2" width="1" height="6.5" fill="#000" opacity="0.072"/><rect x="103" y="164.2" width="1" height="6.5" fill="#000" opacity="0.054"/><rect x="104" y="164.2" width="1" height="6.5" fill="#000" opacity="0.036"/><rect x="105" y="164.2" width="1" height="6.5" fill="#000" opacity="0.036"/><rect x="107" y="164.2" width="1" height="6.5" fill="#000" opacity="0.036"/><rect x="108" y="164.2" width="1" height="6.5" fill="#000" opacity="0.036"/><rect x="115" y="164.2" width="1" height="6.5" fill="#000" opacity="0.054"/><rect x="116" y="164.2" width="1" height="6.5" fill="#000" opacity="0.042"/><rect x="118" y="164.2" width="1" height="6.5" fill="#000" opacity="0.072"/><rect x="119" y="164.2" width="1" height="6.5" fill="#000" opacity="0.060"/><rect x="122" y="164.2" width="1" height="6.5" fill="#000" opacity="0.042"/><rect x="123" y="164.2" width="1" height="6.5" fill="#000" opacity="0.090"/><rect x="126" y="164.2" width="1" height="6.5" fill="#000" opacity="0.042"/><rect x="128" y="164.2" width="1" height="6.5" fill="#000" opacity="0.048"/><rect x="129" y="164.2" width="1" height="6.5" fill="#000" opacity="0.048"/><rect x="132" y="164.2" width="1" height="6.5" fill="#000" opacity="0.048"/><rect x="133" y="164.2" width="1" height="6.5" fill="#000" opacity="0.054"/><rect x="137" y="164.2" width="1" height="6.5" fill="#000" opacity="0.048"/><rect x="141" y="164.2" width="1" height="6.5" fill="#000" opacity="0.042"/><rect x="146" y="164.2" width="1" height="6.5" fill="#000" opacity="0.066"/><rect x="148" y="164.2" width="1" height="6.5" fill="#000" opacity="0.036"/><rect x="149" y="164.2" width="1" height="6.5" fill="#000" opacity="0.114"/><rect x="150" y="164.2" width="1" height="6.5" fill="#000" opacity="0.048"/><rect x="153" y="164.2" width="1" height="6.5" fill="#000" opacity="0.042"/><rect x="154" y="164.2" width="1" height="6.5" fill="#000" opacity="0.030"/><rect x="160" y="164.2" width="1" height="6.5" fill="#000" opacity="0.048"/><rect x="163" y="164.2" width="1" height="6.5" fill="#000" opacity="0.060"/><rect x="164" y="164.2" width="1" height="6.5" fill="#000" opacity="0.102"/><rect x="165" y="164.2" width="1" height="6.5" fill="#000" opacity="0.030"/><rect x="171" y="164.2" width="1" height="6.5" fill="#000" opacity="0.042"/><rect x="172" y="164.2" width="1" height="6.5" fill="#000" opacity="0.042"/><rect x="174" y="164.2" width="1" height="6.5" fill="#000" opacity="0.042"/><rect x="175" y="164.2" width="1" height="6.5" fill="#000" opacity="0.054"/><rect x="176" y="164.2" width="1" height="6.5" fill="#000" opacity="0.054"/><rect x="178" y="164.2" width="1" height="6.5" fill="#000" opacity="0.042"/><rect x="181" y="164.2" width="1" height="6.5" fill="#000" opacity="0.042"/><rect x="182" y="164.2" width="1" height="6.5" fill="#000" opacity="0.096"/><rect x="183" y="164.2" width="1" height="6.5" fill="#000" opacity="0.090"/><rect x="185" y="164.2" width="1" height="6.5" fill="#000" opacity="0.036"/><rect x="186" y="164.2" width="1" height="6.5" fill="#000" opacity="0.036"/><rect x="188" y="164.2" width="1" height="6.5" fill="#000" opacity="0.042"/><rect x="191" y="164.2" width="1" height="6.5" fill="#000" opacity="0.048"/><rect x="192" y="164.2" width="1" height="6.5" fill="#000" opacity="0.054"/><rect x="193" y="164.2" width="1" height="6.5" fill="#000" opacity="0.066"/><rect x="194" y="164.2" width="1" height="6.5" fill="#000" opacity="0.078"/><rect x="195" y="164.2" width="1" height="6.5" fill="#000" opacity="0.048"/><rect x="196" y="164.2" width="1" height="6.5" fill="#000" opacity="0.060"/><rect x="197" y="164.2" width="1" height="6.5" fill="#000" opacity="0.102"/><rect x="198" y="164.2" width="1" height="6.5" fill="#000" opacity="0.084"/><rect x="200" y="164.2" width="1" height="6.5" fill="#000" opacity="0.048"/><rect x="201" y="164.2" width="1" height="6.5" fill="#000" opacity="0.060"/><rect x="202" y="164.2" width="1" height="6.5" fill="#000" opacity="0.090"/><rect x="203" y="164.2" width="1" height="6.5" fill="#000" opacity="0.060"/><rect x="206" y="164.2" width="1" height="6.5" fill="#000" opacity="0.042"/><rect x="208" y="164.2" width="1" height="6.5" fill="#000" opacity="0.048"/><rect x="209" y="164.2" width="1" height="6.5" fill="#000" opacity="0.090"/><rect x="210" y="164.2" width="1" height="6.5" fill="#000" opacity="0.084"/><rect x="211" y="164.2" width="1" height="6.5" fill="#000" opacity="0.036"/><rect x="212" y="164.2" width="1" height="6.5" fill="#000" opacity="0.036"/><rect x="213" y="164.2" width="1" height="6.5" fill="#000" opacity="0.054"/><rect x="214" y="164.2" width="1" height="6.5" fill="#000" opacity="0.090"/><rect x="215" y="164.2" width="1" height="6.5" fill="#000" opacity="0.096"/><rect x="216" y="164.2" width="1" height="6.5" fill="#000" opacity="0.110"/><rect x="217" y="164.2" width="1" height="6.5" fill="#000" opacity="0.090"/><rect x="218" y="164.2" width="1" height="6.5" fill="#000" opacity="0.086"/><rect x="219" y="164.2" width="1" height="6.5" fill="#000" opacity="0.062"/><rect x="220" y="164.2" width="1" height="6.5" fill="#000" opacity="0.084"/><rect x="221" y="164.2" width="1" height="6.5" fill="#000" opacity="0.116"/><rect x="222" y="164.2" width="1" height="6.5" fill="#000" opacity="0.108"/>
<polyline points="42.3,55.6 44.3,52.4 47.5,53.8 50.0,55.9 54.6,59.2 60.0,63.5 65.4,67.3 69.2,69.2 73.1,71.2 77.7,73.5 80.8,75.8 84.6,79.2 88.5,81.5 89.8,82.2 94.6,85.6 98.9,88.0 102.3,89.9 105.2,90.9 109.0,93.3 112.9,96.6 115.8,98.3 118.7,99.5 120.1,99.2 123.0,101.4 124.4,100.8 128.3,103.4 129.7,103.8 133.1,105.9 134.8,106.7 137.2,108.7 141.5,111.1 145.9,114.2 147.3,114.6 148.8,115.2 150.2,114.2 153.1,115.4 155.5,116.8 158.8,119.7 161.7,121.2 163.5,122.9 164.8,120.7 166.5,121.9 170.4,125.2 173.3,126.4 176.2,127.6 179.3,128.5 181.7,130.4 183.8,127.5 186.5,128.5 189.4,129.7 191.8,130.7 193.8,130.0 196.2,129.7 197.6,127.8 198.6,125.9 200.5,125.7 202.4,123.9 203.8,122.5 204.8,122.0 206.7,122.5 208.8,123.7 211.1,120.1 213.5,119.9 214.5,114.8 215.6,110.2 216.7,103.9 218.3,98.4 219.4,93.8 220.3,90.9 221.1,89.1 221.6,81.3 222.2,71.9 223.1,64.8 223.4,53.9" fill="none" stroke="#6cae26" stroke-width="1.35" stroke-linejoin="round"/>
<rect x="41.5" y="49.2" width="190.2" height="122.5" fill="none" stroke="#000" stroke-width="1.5"/>
<line x1="37.3" y1="54.4" x2="41.5" y2="54.4" stroke="#111" stroke-width="1.2"/><line x1="37.3" y1="68.7" x2="41.5" y2="68.7" stroke="#111" stroke-width="1.2"/><line x1="37.3" y1="83.0" x2="41.5" y2="83.0" stroke="#111" stroke-width="1.2"/><line x1="37.3" y1="97.3" x2="41.5" y2="97.3" stroke="#111" stroke-width="1.2"/><line x1="37.3" y1="111.6" x2="41.5" y2="111.6" stroke="#111" stroke-width="1.2"/><line x1="37.3" y1="125.9" x2="41.5" y2="125.9" stroke="#111" stroke-width="1.2"/>
<g class="ns" font-size="12.2"><text x="32.5" y="58.7" text-anchor="end">0</text><text x="32.5" y="73.0" text-anchor="end">-0.1</text><text x="32.5" y="87.3" text-anchor="end">-0.2</text><text x="32.5" y="101.6" text-anchor="end">-0.3</text><text x="32.5" y="115.9" text-anchor="end">-0.4</text><text x="32.5" y="130.2" text-anchor="end">-0.5</text></g>
<text class="ns" x="48.4" y="116.8" font-size="11" textLength="54.4" lengthAdjust="spacingAndGlyphs">NES: -1.98</text>
<text class="ns" x="48.4" y="130.1" font-size="11" textLength="76.2" lengthAdjust="spacingAndGlyphs">Nominal <tspan font-style="italic">P</tspan>: 0.0</text>
<text class="ns" x="41.6" y="186.4" font-size="12" textLength="40.8" lengthAdjust="spacingAndGlyphs">Combo</text>
<text class="ns" x="194.3" y="186.4" font-size="12" textLength="37.2" lengthAdjust="spacingAndGlyphs">DMSO</text>


<text x="274.3" y="26.1" font-size="17.6" font-weight="bold">B</text>
<text class="ns" x="371.8" y="20.8" font-size="11.8" textLength="39.2" lengthAdjust="spacingAndGlyphs">MV411</text>
<g font-size="12.7"><text x="340.6" y="69.0" textLength="39.2" lengthAdjust="spacingAndGlyphs" transform="rotate(-30 340.6 69.0)">DMSO</text><text x="373.3" y="68.2" transform="rotate(-30 373.3 68.2)">MI-503</text><text x="406.8" y="67.7" transform="rotate(-30 406.8 67.7)">Quizartinib</text><text x="438.2" y="68.6" textLength="43.2" lengthAdjust="spacingAndGlyphs" transform="rotate(-30 438.2 68.6)">Combo</text></g>
<line x1="327.2" y1="73.2" x2="358.8" y2="73.2" stroke="#111" stroke-width="1.6"/><line x1="360.1" y1="73.2" x2="391.4" y2="73.2" stroke="#111" stroke-width="1.6"/><line x1="392.8" y1="73.2" x2="424.1" y2="73.2" stroke="#111" stroke-width="1.6"/><line x1="425.6" y1="73.2" x2="456.9" y2="73.2" stroke="#111" stroke-width="1.6"/>
<g font-size="11.5"><text x="288.9" y="86.9" textLength="28.0" lengthAdjust="spacingAndGlyphs">SPP1</text><line x1="322.6" y1="83.3" x2="327" y2="83.3" stroke="#111" stroke-width="1.3"/><text x="281.7" y="97.4" textLength="35.2" lengthAdjust="spacingAndGlyphs">BATF3</text><line x1="322.6" y1="94.5" x2="327" y2="94.5" stroke="#111" stroke-width="1.3"/><text x="293.9" y="108.2" textLength="23.0" lengthAdjust="spacingAndGlyphs">CBS</text><line x1="322.6" y1="108.2" x2="327" y2="108.2" stroke="#111" stroke-width="1.3"/><text x="288.6" y="119.8" textLength="28.3" lengthAdjust="spacingAndGlyphs">ADM</text><line x1="322.6" y1="116.5" x2="327" y2="116.5" stroke="#111" stroke-width="1.3"/><text x="280.8" y="153.2" textLength="36.6" lengthAdjust="spacingAndGlyphs">COCH</text><line x1="322.6" y1="149.5" x2="327" y2="149.5" stroke="#111" stroke-width="1.3"/><text x="282.2" y="163.7" textLength="35.2" lengthAdjust="spacingAndGlyphs">DDIT4</text><line x1="322.6" y1="159.9" x2="327" y2="159.9" stroke="#111" stroke-width="1.3"/><text x="280.8" y="228.1" textLength="36.6" lengthAdjust="spacingAndGlyphs">FGF11</text><line x1="322.6" y1="225.2" x2="327" y2="225.2" stroke="#111" stroke-width="1.3"/><text x="274.8" y="238.0" textLength="42.6" lengthAdjust="spacingAndGlyphs">CCND2</text><line x1="322.6" y1="232.6" x2="327" y2="232.6" stroke="#111" stroke-width="1.3"/></g>
<g class="ns" font-size="12.2"><rect x="467.2" y="97.50" width="9" height="8.7" fill="#5a1326"/><text x="480.5" y="105.40">3.07</text><rect x="467.2" y="113.22" width="9" height="8.7" fill="#952330"/><text x="480.5" y="121.12">2.54</text><rect x="467.2" y="128.94" width="9" height="8.7" fill="#bc5e50"/><text x="480.5" y="136.84">2</text><rect x="467.2" y="144.66" width="9" height="8.7" fill="#e0a386"/><text x="480.5" y="152.56">1.46</text><rect x="467.2" y="160.38" width="9" height="8.7" fill="#f0d5c5"/><text x="480.5" y="168.28">0.92</text><rect x="467.2" y="176.10" width="9" height="8.7" fill="#efeeec"/><text x="480.5" y="184.00">0.39</text><rect x="467.2" y="191.82" width="9" height="8.7" fill="#d1e1ec"/><text x="480.5" y="199.72">-0.15</text><rect x="467.2" y="207.54" width="9" height="8.7" fill="#9fc0da"/><text x="480.5" y="215.44">-0.69</text><rect x="467.2" y="223.26" width="9" height="8.7" fill="#6693c3"/><text x="480.5" y="231.16">-1.23</text><rect x="467.2" y="238.98" width="9" height="8.7" fill="#3e67a0"/><text x="480.5" y="246.88">-1.76</text><rect x="467.2" y="254.70" width="9" height="8.7" fill="#26345a"/><text x="480.5" y="262.60">-2.3</text></g>

<rect x="0.8" y="0.8" width="518.4" height="414.4" fill="none" stroke="#000" stroke-width="1.6"/>
</svg>
</div></body></html>
